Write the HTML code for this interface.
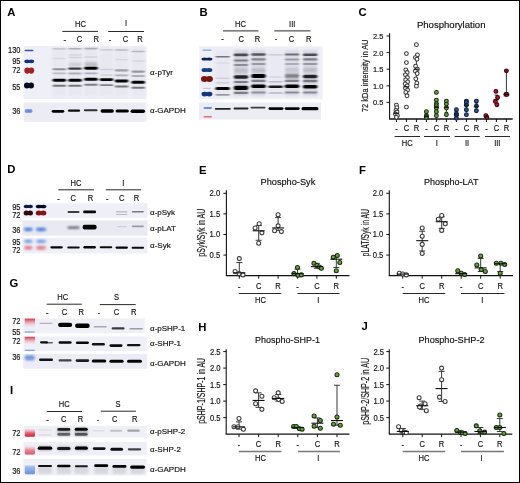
<!DOCTYPE html><html><head><meta charset="utf-8"><style>html,body{margin:0;padding:0;background:#fff}svg{display:block}text{font-family:"Liberation Sans",sans-serif}</style></head><body>
<svg style="will-change:transform" width="520" height="483" viewBox="0 0 520 483">
<defs><filter id="b1" x="-50%" y="-100%" width="200%" height="300%"><feGaussianBlur stdDeviation="0.65 0.5"/></filter><filter id="b1s" x="-50%" y="-100%" width="200%" height="300%"><feGaussianBlur stdDeviation="0.85 0.7"/></filter><filter id="b2" x="-50%" y="-100%" width="200%" height="300%"><feGaussianBlur stdDeviation="1.0 0.9"/></filter><filter id="b3" x="-50%" y="-100%" width="200%" height="300%"><feGaussianBlur stdDeviation="2 1.8"/></filter><linearGradient id="rf" x1="0" y1="0" x2="0" y2="1"><stop offset="0" stop-color="#d8283a" stop-opacity="0.95"/><stop offset="0.35" stop-color="#e05868" stop-opacity="0.6"/><stop offset="1" stop-color="#f0c0cc" stop-opacity="0"/></linearGradient><linearGradient id="ru" x1="0" y1="0" x2="0" y2="1"><stop offset="0" stop-color="#f0b0bc" stop-opacity="0.3"/><stop offset="0.5" stop-color="#e04a5a" stop-opacity="0.85"/><stop offset="1" stop-color="#d42030" stop-opacity="1"/></linearGradient><linearGradient id="bu" x1="0" y1="0" x2="0" y2="1"><stop offset="0" stop-color="#ffffff" stop-opacity="0.9"/><stop offset="0.3" stop-color="#8aaae8" stop-opacity="0.8"/><stop offset="1" stop-color="#5a86d8" stop-opacity="0.9"/></linearGradient><filter id="bg" x="-5%" y="-10%" width="110%" height="120%"><feGaussianBlur stdDeviation="0.5"/></filter></defs>
<rect x="0" y="0" width="520" height="483" fill="#fff"/>
<text x="7.3" y="15.6" font-size="11.3" text-anchor="start" font-weight="bold" fill="#000" >A</text>
<text x="199.5" y="16.0" font-size="11.3" text-anchor="start" font-weight="bold" fill="#000" >B</text>
<text x="358.4" y="15.6" font-size="11.3" text-anchor="start" font-weight="bold" fill="#000" >C</text>
<text x="7.2" y="172.7" font-size="11.3" text-anchor="start" font-weight="bold" fill="#000" >D</text>
<text x="199.1" y="173.6" font-size="11.3" text-anchor="start" font-weight="bold" fill="#000" >E</text>
<text x="359.1" y="173.5" font-size="11.3" text-anchor="start" font-weight="bold" fill="#000" >F</text>
<text x="9.6" y="286.9" font-size="11.3" text-anchor="start" font-weight="bold" fill="#000" >G</text>
<text x="198.3" y="331.2" font-size="11.3" text-anchor="start" font-weight="bold" fill="#000" >H</text>
<text x="9.9" y="393.6" font-size="11.3" text-anchor="start" font-weight="bold" fill="#000" >I</text>
<text x="361.5" y="329.8" font-size="11.3" text-anchor="start" font-weight="bold" fill="#000" >J</text>
<text transform="translate(80.4 26.9) scale(0.89 1)" x="0" y="0" font-size="8.5" text-anchor="middle" font-weight="normal" fill="#111" stroke="#111" stroke-width="0.16" >HC</text>
<text transform="translate(126.1 26.3) scale(0.89 1)" x="0" y="0" font-size="8.5" text-anchor="middle" font-weight="normal" fill="#111" stroke="#111" stroke-width="0.16" >I</text>
<line x1="62.3" y1="31.4" x2="98" y2="31.4" stroke="#111" stroke-width="0.9"/>
<line x1="108.2" y1="31.5" x2="144" y2="31.5" stroke="#111" stroke-width="0.9"/>
<text transform="translate(64.8 42.5) scale(0.88 1)" x="0" y="0" font-size="8.6" text-anchor="middle" font-weight="normal" fill="#111" stroke="#111" stroke-width="0.16" >-</text>
<text transform="translate(79.6 41.7) scale(0.88 1)" x="0" y="0" font-size="8.6" text-anchor="middle" font-weight="normal" fill="#111" stroke="#111" stroke-width="0.16" >C</text>
<text transform="translate(96.2 41.7) scale(0.88 1)" x="0" y="0" font-size="8.6" text-anchor="middle" font-weight="normal" fill="#111" stroke="#111" stroke-width="0.16" >R</text>
<text transform="translate(109.9 42.5) scale(0.88 1)" x="0" y="0" font-size="8.6" text-anchor="middle" font-weight="normal" fill="#111" stroke="#111" stroke-width="0.16" >-</text>
<text transform="translate(125.5 41.7) scale(0.88 1)" x="0" y="0" font-size="8.6" text-anchor="middle" font-weight="normal" fill="#111" stroke="#111" stroke-width="0.16" >C</text>
<text transform="translate(139.9 41.7) scale(0.88 1)" x="0" y="0" font-size="8.6" text-anchor="middle" font-weight="normal" fill="#111" stroke="#111" stroke-width="0.16" >R</text>
<text transform="translate(20.5 53.3) scale(0.9 1)" x="0" y="0" font-size="8.3" text-anchor="end" font-weight="normal" fill="#111" stroke="#111" stroke-width="0.16" >130</text>
<text transform="translate(20.5 64.10000000000001) scale(0.9 1)" x="0" y="0" font-size="8.3" text-anchor="end" font-weight="normal" fill="#111" stroke="#111" stroke-width="0.16" >95</text>
<text transform="translate(20.5 72.7) scale(0.9 1)" x="0" y="0" font-size="8.3" text-anchor="end" font-weight="normal" fill="#111" stroke="#111" stroke-width="0.16" >72</text>
<text transform="translate(20.5 90.10000000000001) scale(0.9 1)" x="0" y="0" font-size="8.3" text-anchor="end" font-weight="normal" fill="#111" stroke="#111" stroke-width="0.16" >55</text>
<text transform="translate(20.5 114.2) scale(0.9 1)" x="0" y="0" font-size="8.3" text-anchor="end" font-weight="normal" fill="#111" stroke="#111" stroke-width="0.16" >36</text>
<text x="150.1" y="75.4" font-size="8" text-anchor="start" font-weight="normal" fill="#111" stroke="#111" stroke-width="0.16" >α-pTyr</text>
<text x="150" y="113.2" font-size="8" text-anchor="start" font-weight="normal" fill="#111" stroke="#111" stroke-width="0.16" >α-GAPDH</text>
<rect x="23.5" y="46" width="123" height="53" fill="#efeff8" filter="url(#bg)"/>
<rect x="23.7" y="102.5" width="122.6" height="19.3" fill="#ececf5" filter="url(#bg)"/>
<rect x="24.5" y="49.70" width="9.0" height="1.6" rx="0.80" fill="#25457e" fill-opacity="0.9" filter="url(#b1)"/>
<ellipse cx="27.16" cy="61.30" rx="2.85" ry="1.90" fill="#143470" fill-opacity="1" filter="url(#b1)"/>
<ellipse cx="31.34" cy="61.30" rx="2.85" ry="1.90" fill="#143470" fill-opacity="1" filter="url(#b1)"/>
<rect x="26.88" y="60.08" width="4.75" height="2.43" fill="#143470" fill-opacity="1" filter="url(#b1)"/>
<ellipse cx="27.16" cy="70.60" rx="2.85" ry="3.10" fill="#a02428" fill-opacity="1" filter="url(#b1)"/>
<ellipse cx="31.34" cy="70.60" rx="2.85" ry="3.10" fill="#a02428" fill-opacity="1" filter="url(#b1)"/>
<rect x="26.88" y="68.62" width="4.75" height="3.97" fill="#a02428" fill-opacity="1" filter="url(#b1)"/>
<ellipse cx="26.89" cy="85.60" rx="2.88" ry="3.00" fill="#050820" fill-opacity="1" filter="url(#b1)"/>
<ellipse cx="31.11" cy="85.60" rx="2.88" ry="3.00" fill="#050820" fill-opacity="1" filter="url(#b1)"/>
<rect x="26.60" y="83.68" width="4.80" height="3.84" fill="#050820" fill-opacity="1" filter="url(#b1)"/>
<ellipse cx="26.96" cy="111.00" rx="2.31" ry="2.10" fill="#6a8ad8" fill-opacity="0.85" filter="url(#b1)"/>
<ellipse cx="30.34" cy="111.00" rx="2.31" ry="2.10" fill="#6a8ad8" fill-opacity="0.85" filter="url(#b1)"/>
<rect x="26.73" y="109.66" width="3.85" height="2.69" fill="#6a8ad8" fill-opacity="0.85" filter="url(#b1)"/>
<rect x="52.5" y="47" width="13.5" height="50" fill="#8a8aa0" fill-opacity="0.07" filter="url(#b2)"/>
<rect x="68.2" y="47" width="13.5" height="50" fill="#8a8aa0" fill-opacity="0.07" filter="url(#b2)"/>
<rect x="84.2" y="47" width="13.5" height="50" fill="#8a8aa0" fill-opacity="0.07" filter="url(#b2)"/>
<rect x="99.8" y="47" width="13.5" height="50" fill="#8a8aa0" fill-opacity="0.07" filter="url(#b2)"/>
<rect x="114.8" y="47" width="13.5" height="50" fill="#8a8aa0" fill-opacity="0.07" filter="url(#b2)"/>
<rect x="131.4" y="47" width="13.5" height="50" fill="#8a8aa0" fill-opacity="0.07" filter="url(#b2)"/>
<rect x="52.55" y="48.25" width="13.50" height="1.30" rx="0.65" fill="#000" fill-opacity="0.2" filter="url(#b1s)"/>
<rect x="52.55" y="57.85" width="13.50" height="1.30" rx="0.65" fill="#000" fill-opacity="0.07" filter="url(#b1s)"/>
<rect x="52.55" y="68.30" width="13.50" height="2.00" rx="1.00" fill="#000" fill-opacity="0.38" filter="url(#b1s)"/>
<rect x="52.55" y="72.40" width="13.50" height="1.80" rx="0.90" fill="#000" fill-opacity="0.2" filter="url(#b1s)"/>
<rect x="52.55" y="78.75" width="13.50" height="2.90" rx="1.45" fill="#000" fill-opacity="1.0" filter="url(#b1s)"/>
<rect x="52.55" y="84.70" width="13.50" height="2.00" rx="1.00" fill="#000" fill-opacity="0.5" filter="url(#b1s)"/>
<rect x="68.25" y="47.90" width="13.50" height="1.60" rx="0.80" fill="#000" fill-opacity="0.25" filter="url(#b1s)"/>
<rect x="68.25" y="54.35" width="13.50" height="1.30" rx="0.65" fill="#000" fill-opacity="0.08" filter="url(#b1s)"/>
<rect x="68.25" y="56.85" width="13.50" height="1.30" rx="0.65" fill="#000" fill-opacity="0.1" filter="url(#b1s)"/>
<rect x="68.25" y="62.50" width="13.50" height="4.00" rx="2.00" fill="#000" fill-opacity="0.12" filter="url(#b2)"/>
<rect x="68.25" y="67.40" width="13.50" height="2.40" rx="1.20" fill="#000" fill-opacity="0.75" filter="url(#b1s)"/>
<rect x="68.25" y="72.40" width="13.50" height="2.00" rx="1.00" fill="#000" fill-opacity="0.25" filter="url(#b1s)"/>
<rect x="68.25" y="78.70" width="13.50" height="3.00" rx="1.50" fill="#000" fill-opacity="1.0" filter="url(#b1s)"/>
<rect x="68.25" y="84.70" width="13.50" height="2.00" rx="1.00" fill="#000" fill-opacity="0.5" filter="url(#b1s)"/>
<rect x="84.25" y="47.80" width="13.50" height="1.60" rx="0.80" fill="#000" fill-opacity="0.25" filter="url(#b1s)"/>
<rect x="84.25" y="56.35" width="13.50" height="1.30" rx="0.65" fill="#000" fill-opacity="0.1" filter="url(#b1s)"/>
<rect x="84.25" y="62.00" width="13.50" height="5.00" rx="2.00" fill="#000" fill-opacity="0.18" filter="url(#b2)"/>
<rect x="84.25" y="66.75" width="13.50" height="2.90" rx="1.45" fill="#000" fill-opacity="1.0" filter="url(#b1s)"/>
<rect x="84.25" y="72.40" width="13.50" height="1.80" rx="0.90" fill="#000" fill-opacity="0.25" filter="url(#b1s)"/>
<rect x="84.25" y="77.80" width="13.50" height="3.00" rx="1.50" fill="#000" fill-opacity="1.0" filter="url(#b1s)"/>
<rect x="84.25" y="83.80" width="13.50" height="2.00" rx="1.00" fill="#000" fill-opacity="0.45" filter="url(#b1s)"/>
<rect x="99.75" y="49.25" width="13.50" height="1.30" rx="0.65" fill="#000" fill-opacity="0.14" filter="url(#b1s)"/>
<rect x="99.75" y="68.75" width="13.50" height="1.50" rx="0.75" fill="#000" fill-opacity="0.12" filter="url(#b1s)"/>
<rect x="99.75" y="74.30" width="13.50" height="1.40" rx="0.70" fill="#000" fill-opacity="0.1" filter="url(#b1s)"/>
<rect x="99.75" y="78.25" width="13.50" height="2.70" rx="1.35" fill="#000" fill-opacity="1.0" filter="url(#b1s)"/>
<rect x="99.75" y="84.30" width="13.50" height="1.80" rx="0.90" fill="#000" fill-opacity="0.45" filter="url(#b1s)"/>
<rect x="114.85" y="49.15" width="13.50" height="1.50" rx="0.75" fill="#000" fill-opacity="0.2" filter="url(#b1s)"/>
<rect x="114.85" y="59.05" width="13.50" height="1.30" rx="0.65" fill="#000" fill-opacity="0.08" filter="url(#b1s)"/>
<rect x="114.85" y="69.30" width="13.50" height="2.20" rx="1.10" fill="#000" fill-opacity="0.32" filter="url(#b1s)"/>
<rect x="114.85" y="74.50" width="13.50" height="1.80" rx="0.90" fill="#000" fill-opacity="0.25" filter="url(#b1s)"/>
<rect x="114.85" y="79.55" width="13.50" height="2.90" rx="1.45" fill="#000" fill-opacity="1.0" filter="url(#b1s)"/>
<rect x="114.85" y="85.50" width="13.50" height="2.00" rx="1.00" fill="#000" fill-opacity="0.5" filter="url(#b1s)"/>
<rect x="131.45" y="50.85" width="13.50" height="1.50" rx="0.75" fill="#000" fill-opacity="0.22" filter="url(#b1s)"/>
<rect x="131.45" y="60.35" width="13.50" height="1.30" rx="0.65" fill="#000" fill-opacity="0.08" filter="url(#b1s)"/>
<rect x="131.45" y="70.50" width="13.50" height="2.20" rx="1.10" fill="#000" fill-opacity="0.35" filter="url(#b1s)"/>
<rect x="131.45" y="75.10" width="13.50" height="1.80" rx="0.90" fill="#000" fill-opacity="0.25" filter="url(#b1s)"/>
<rect x="131.45" y="80.70" width="13.50" height="3.00" rx="1.50" fill="#000" fill-opacity="1.0" filter="url(#b1s)"/>
<rect x="131.45" y="86.80" width="13.50" height="2.00" rx="1.00" fill="#000" fill-opacity="0.5" filter="url(#b1s)"/>
<rect x="51.70" y="109.90" width="12.60" height="2.80" rx="1.40" fill="#000" fill-opacity="1.0" filter="url(#b1)"/>
<rect x="67.90" y="109.40" width="12.20" height="2.40" rx="1.20" fill="#000" fill-opacity="0.95" filter="url(#b1)"/>
<rect x="83.85" y="109.20" width="13.70" height="2.00" rx="1.00" fill="#000" fill-opacity="0.8" filter="url(#b1)"/>
<rect x="100.55" y="109.30" width="13.30" height="3.40" rx="1.70" fill="#000" fill-opacity="1.0" filter="url(#b1)"/>
<rect x="115.55" y="109.40" width="13.30" height="3.20" rx="1.60" fill="#000" fill-opacity="1.0" filter="url(#b1)"/>
<rect x="130.55" y="109.50" width="14.50" height="3.40" rx="1.70" fill="#000" fill-opacity="1.0" filter="url(#b1)"/>
<text transform="translate(240.5 26.5) scale(0.89 1)" x="0" y="0" font-size="8.5" text-anchor="middle" font-weight="normal" fill="#111" stroke="#111" stroke-width="0.16" >HC</text>
<text transform="translate(292.2 26.5) scale(0.89 1)" x="0" y="0" font-size="8.5" text-anchor="middle" font-weight="normal" fill="#111" stroke="#111" stroke-width="0.16" >III</text>
<line x1="223" y1="30.9" x2="258.5" y2="30.9" stroke="#111" stroke-width="0.9"/>
<line x1="274.3" y1="30.9" x2="310.4" y2="30.9" stroke="#111" stroke-width="0.9"/>
<text transform="translate(222.6 42.4) scale(0.88 1)" x="0" y="0" font-size="8.6" text-anchor="middle" font-weight="normal" fill="#111" stroke="#111" stroke-width="0.16" >-</text>
<text transform="translate(241.2 41.6) scale(0.88 1)" x="0" y="0" font-size="8.6" text-anchor="middle" font-weight="normal" fill="#111" stroke="#111" stroke-width="0.16" >C</text>
<text transform="translate(257.6 41.6) scale(0.88 1)" x="0" y="0" font-size="8.6" text-anchor="middle" font-weight="normal" fill="#111" stroke="#111" stroke-width="0.16" >R</text>
<text transform="translate(275.9 42.4) scale(0.88 1)" x="0" y="0" font-size="8.6" text-anchor="middle" font-weight="normal" fill="#111" stroke="#111" stroke-width="0.16" >-</text>
<text transform="translate(291.5 41.6) scale(0.88 1)" x="0" y="0" font-size="8.6" text-anchor="middle" font-weight="normal" fill="#111" stroke="#111" stroke-width="0.16" >C</text>
<text transform="translate(308.8 41.6) scale(0.88 1)" x="0" y="0" font-size="8.6" text-anchor="middle" font-weight="normal" fill="#111" stroke="#111" stroke-width="0.16" >R</text>
<rect x="199.3" y="46.2" width="123.2" height="53" fill="#efeff8" filter="url(#bg)"/>
<rect x="199" y="102.5" width="122" height="17" fill="#ececf5" filter="url(#bg)"/>
<rect x="202.5" y="49.55" width="9.0" height="1.1" rx="0.55" fill="#4a6aa8" fill-opacity="0.6" filter="url(#b1)"/>
<ellipse cx="204.64" cy="59.00" rx="3.15" ry="1.50" fill="#0c2458" fill-opacity="1" filter="url(#b1)"/>
<ellipse cx="209.26" cy="59.00" rx="3.15" ry="1.50" fill="#0c2458" fill-opacity="1" filter="url(#b1)"/>
<rect x="204.32" y="58.04" width="5.25" height="1.92" fill="#0c2458" fill-opacity="1" filter="url(#b1)"/>
<ellipse cx="204.64" cy="70.00" rx="3.15" ry="2.00" fill="#173f88" fill-opacity="1" filter="url(#b1)"/>
<ellipse cx="209.26" cy="70.00" rx="3.15" ry="2.00" fill="#173f88" fill-opacity="1" filter="url(#b1)"/>
<rect x="204.32" y="68.72" width="5.25" height="2.56" fill="#173f88" fill-opacity="1" filter="url(#b1)"/>
<ellipse cx="204.42" cy="78.90" rx="3.45" ry="3.00" fill="#7a1410" fill-opacity="1" filter="url(#b1)"/>
<ellipse cx="209.48" cy="78.90" rx="3.45" ry="3.00" fill="#7a1410" fill-opacity="1" filter="url(#b1)"/>
<rect x="204.07" y="76.98" width="5.75" height="3.84" fill="#7a1410" fill-opacity="1" filter="url(#b1)"/>
<rect x="203" y="87.70" width="8" height="1.4" rx="0.70" fill="#8a93b0" fill-opacity="0.4" filter="url(#b1)"/>
<ellipse cx="204.64" cy="94.10" rx="3.15" ry="2.40" fill="#12357a" fill-opacity="1" filter="url(#b1)"/>
<ellipse cx="209.26" cy="94.10" rx="3.15" ry="2.40" fill="#12357a" fill-opacity="1" filter="url(#b1)"/>
<rect x="204.32" y="92.56" width="5.25" height="3.07" fill="#12357a" fill-opacity="1" filter="url(#b1)"/>
<rect x="203.5" y="106.90" width="8.5" height="2.2" rx="1.10" fill="#4a7ad0" fill-opacity="0.8" filter="url(#b1)"/>
<rect x="203.5" y="116.00" width="8.5" height="1.6" rx="0.80" fill="#e04040" fill-opacity="0.75" filter="url(#b1)"/>
<rect x="215.4" y="50" width="14.5" height="46" fill="#70708a" fill-opacity="0.06" filter="url(#b2)"/>
<rect x="233.8" y="50" width="14.5" height="46" fill="#70708a" fill-opacity="0.2" filter="url(#b2)"/>
<rect x="251.2" y="50" width="14.5" height="46" fill="#70708a" fill-opacity="0.18" filter="url(#b2)"/>
<rect x="268.4" y="50" width="14.5" height="46" fill="#70708a" fill-opacity="0.04" filter="url(#b2)"/>
<rect x="284.8" y="50" width="14.5" height="46" fill="#70708a" fill-opacity="0.15" filter="url(#b2)"/>
<rect x="302.9" y="50" width="14.5" height="46" fill="#70708a" fill-opacity="0.18" filter="url(#b2)"/>
<rect x="215.45" y="55.90" width="14.50" height="1.60" rx="0.80" fill="#000" fill-opacity="0.5" filter="url(#b1s)"/>
<rect x="215.45" y="62.30" width="14.50" height="1.40" rx="0.70" fill="#000" fill-opacity="0.06" filter="url(#b1s)"/>
<rect x="215.45" y="77.60" width="14.50" height="1.40" rx="0.70" fill="#000" fill-opacity="0.1" filter="url(#b1s)"/>
<rect x="215.45" y="82.00" width="14.50" height="1.40" rx="0.70" fill="#000" fill-opacity="0.1" filter="url(#b1s)"/>
<rect x="215.45" y="86.90" width="14.50" height="3.00" rx="1.50" fill="#000" fill-opacity="1.0" filter="url(#b1s)"/>
<rect x="215.45" y="93.90" width="14.50" height="1.80" rx="0.90" fill="#000" fill-opacity="0.35" filter="url(#b1s)"/>
<rect x="233.75" y="53.40" width="14.50" height="2.80" rx="1.40" fill="#000" fill-opacity="0.65" filter="url(#b1s)"/>
<rect x="233.75" y="59.40" width="14.50" height="2.20" rx="1.10" fill="#000" fill-opacity="0.42" filter="url(#b1s)"/>
<rect x="233.75" y="63.90" width="14.50" height="2.20" rx="1.10" fill="#000" fill-opacity="0.35" filter="url(#b1s)"/>
<rect x="233.75" y="68.50" width="14.50" height="4.00" rx="2.00" fill="#000" fill-opacity="0.12" filter="url(#b2)"/>
<rect x="233.75" y="75.30" width="14.50" height="3.40" rx="1.70" fill="#000" fill-opacity="0.85" filter="url(#b1s)"/>
<rect x="233.75" y="80.90" width="14.50" height="2.20" rx="1.10" fill="#000" fill-opacity="0.42" filter="url(#b1s)"/>
<rect x="233.75" y="85.70" width="14.50" height="4.20" rx="2.00" fill="#000" fill-opacity="1.0" filter="url(#b1s)"/>
<rect x="233.75" y="91.80" width="14.50" height="2.20" rx="1.10" fill="#000" fill-opacity="0.42" filter="url(#b1s)"/>
<rect x="251.25" y="53.20" width="14.50" height="2.60" rx="1.30" fill="#000" fill-opacity="0.6" filter="url(#b1s)"/>
<rect x="251.25" y="58.30" width="14.50" height="2.20" rx="1.10" fill="#000" fill-opacity="0.38" filter="url(#b1s)"/>
<rect x="251.25" y="62.90" width="14.50" height="2.20" rx="1.10" fill="#000" fill-opacity="0.3" filter="url(#b1s)"/>
<rect x="251.25" y="68.50" width="14.50" height="4.00" rx="2.00" fill="#000" fill-opacity="0.14" filter="url(#b2)"/>
<rect x="251.25" y="73.90" width="14.50" height="4.20" rx="2.00" fill="#000" fill-opacity="1.0" filter="url(#b1s)"/>
<rect x="251.25" y="79.80" width="14.50" height="2.20" rx="1.10" fill="#000" fill-opacity="0.42" filter="url(#b1s)"/>
<rect x="251.25" y="84.60" width="14.50" height="3.40" rx="1.70" fill="#000" fill-opacity="1.0" filter="url(#b1s)"/>
<rect x="251.25" y="91.50" width="14.50" height="2.00" rx="1.00" fill="#000" fill-opacity="0.35" filter="url(#b1s)"/>
<rect x="268.35" y="54.15" width="14.50" height="1.30" rx="0.65" fill="#000" fill-opacity="0.16" filter="url(#b1s)"/>
<rect x="268.35" y="76.35" width="14.50" height="1.30" rx="0.65" fill="#000" fill-opacity="0.08" filter="url(#b1s)"/>
<rect x="268.35" y="80.90" width="14.50" height="1.60" rx="0.80" fill="#000" fill-opacity="0.2" filter="url(#b1s)"/>
<rect x="268.35" y="85.50" width="14.50" height="2.60" rx="1.30" fill="#000" fill-opacity="0.9" filter="url(#b1s)"/>
<rect x="268.35" y="92.15" width="14.50" height="1.50" rx="0.75" fill="#000" fill-opacity="0.22" filter="url(#b1s)"/>
<rect x="284.75" y="53.40" width="14.50" height="2.20" rx="1.10" fill="#000" fill-opacity="0.5" filter="url(#b1s)"/>
<rect x="284.75" y="58.40" width="14.50" height="2.00" rx="1.00" fill="#000" fill-opacity="0.3" filter="url(#b1s)"/>
<rect x="284.75" y="63.00" width="14.50" height="2.00" rx="1.00" fill="#000" fill-opacity="0.22" filter="url(#b1s)"/>
<rect x="284.75" y="68.00" width="14.50" height="4.00" rx="2.00" fill="#000" fill-opacity="0.1" filter="url(#b2)"/>
<rect x="284.75" y="74.30" width="14.50" height="3.40" rx="1.70" fill="#000" fill-opacity="0.5" filter="url(#b2)"/>
<rect x="284.75" y="79.80" width="14.50" height="2.20" rx="1.10" fill="#000" fill-opacity="0.42" filter="url(#b1s)"/>
<rect x="284.75" y="84.60" width="14.50" height="3.40" rx="1.70" fill="#000" fill-opacity="1.0" filter="url(#b1s)"/>
<rect x="284.75" y="91.50" width="14.50" height="2.00" rx="1.00" fill="#000" fill-opacity="0.38" filter="url(#b1s)"/>
<rect x="302.95" y="53.50" width="14.50" height="2.60" rx="1.30" fill="#000" fill-opacity="0.65" filter="url(#b1s)"/>
<rect x="302.95" y="58.30" width="14.50" height="2.20" rx="1.10" fill="#000" fill-opacity="0.42" filter="url(#b1s)"/>
<rect x="302.95" y="62.90" width="14.50" height="2.20" rx="1.10" fill="#000" fill-opacity="0.3" filter="url(#b1s)"/>
<rect x="302.95" y="68.00" width="14.50" height="4.00" rx="2.00" fill="#000" fill-opacity="0.14" filter="url(#b2)"/>
<rect x="302.95" y="74.70" width="14.50" height="3.60" rx="1.80" fill="#000" fill-opacity="0.85" filter="url(#b1s)"/>
<rect x="302.95" y="79.80" width="14.50" height="2.40" rx="1.20" fill="#000" fill-opacity="0.45" filter="url(#b1s)"/>
<rect x="302.95" y="85.00" width="14.50" height="3.60" rx="1.80" fill="#000" fill-opacity="1.0" filter="url(#b1s)"/>
<rect x="302.95" y="91.50" width="14.50" height="2.00" rx="1.00" fill="#000" fill-opacity="0.38" filter="url(#b1s)"/>
<rect x="214.80" y="107.90" width="16.00" height="1.80" rx="0.90" fill="#000" fill-opacity="0.85" filter="url(#b1)"/>
<rect x="233.50" y="107.50" width="15.00" height="2.00" rx="1.00" fill="#000" fill-opacity="0.85" filter="url(#b1)"/>
<rect x="250.50" y="106.70" width="15.00" height="1.80" rx="0.90" fill="#000" fill-opacity="0.75" filter="url(#b1)"/>
<rect x="268.50" y="107.20" width="15.00" height="2.80" rx="1.40" fill="#000" fill-opacity="0.97" filter="url(#b1)"/>
<rect x="284.70" y="107.20" width="15.00" height="2.80" rx="1.40" fill="#000" fill-opacity="0.97" filter="url(#b1)"/>
<rect x="301.50" y="107.10" width="17.00" height="3.20" rx="1.60" fill="#000" fill-opacity="0.98" filter="url(#b1)"/>
<text x="451.2" y="27.7" font-size="9.6" text-anchor="middle" font-weight="normal" fill="#111" stroke="#111" stroke-width="0.16" textLength="68.6" lengthAdjust="spacingAndGlyphs">Phosphorylation</text>
<line x1="389.6" y1="33.3" x2="389.6" y2="119.0" stroke="#111" stroke-width="1.1"/>
<line x1="386.6" y1="102.4" x2="389.6" y2="102.4" stroke="#111" stroke-width="1"/>
<text transform="translate(383.3 105.30000000000001) scale(0.92 1)" x="0" y="0" font-size="8.1" text-anchor="end" font-weight="normal" fill="#111" stroke="#111" stroke-width="0.16" >0.5</text>
<line x1="386.6" y1="85.8" x2="389.6" y2="85.8" stroke="#111" stroke-width="1"/>
<text transform="translate(383.3 88.7) scale(0.92 1)" x="0" y="0" font-size="8.1" text-anchor="end" font-weight="normal" fill="#111" stroke="#111" stroke-width="0.16" >1.0</text>
<line x1="386.6" y1="69.19999999999999" x2="389.6" y2="69.19999999999999" stroke="#111" stroke-width="1"/>
<text transform="translate(383.3 72.1) scale(0.92 1)" x="0" y="0" font-size="8.1" text-anchor="end" font-weight="normal" fill="#111" stroke="#111" stroke-width="0.16" >1.5</text>
<line x1="386.6" y1="52.599999999999994" x2="389.6" y2="52.599999999999994" stroke="#111" stroke-width="1"/>
<text transform="translate(383.3 55.49999999999999) scale(0.92 1)" x="0" y="0" font-size="8.1" text-anchor="end" font-weight="normal" fill="#111" stroke="#111" stroke-width="0.16" >2.0</text>
<line x1="386.6" y1="36.0" x2="389.6" y2="36.0" stroke="#111" stroke-width="1"/>
<text transform="translate(383.3 38.9) scale(0.92 1)" x="0" y="0" font-size="8.1" text-anchor="end" font-weight="normal" fill="#111" stroke="#111" stroke-width="0.16" >2.5</text>
<line x1="389.1" y1="119.0" x2="512.7" y2="119.0" stroke="#111" stroke-width="1.3"/>
<line x1="396.4" y1="119.0" x2="396.4" y2="122.0" stroke="#111" stroke-width="1"/>
<text transform="translate(396.4 132.20000000000002) scale(0.88 1)" x="0" y="0" font-size="8.6" text-anchor="middle" font-weight="normal" fill="#111" stroke="#111" stroke-width="0.16" >-</text>
<line x1="406.4" y1="119.0" x2="406.4" y2="122.0" stroke="#111" stroke-width="1"/>
<text transform="translate(406.4 131.3) scale(0.88 1)" x="0" y="0" font-size="8.6" text-anchor="middle" font-weight="normal" fill="#111" stroke="#111" stroke-width="0.16" >C</text>
<line x1="416.4" y1="119.0" x2="416.4" y2="122.0" stroke="#111" stroke-width="1"/>
<text transform="translate(416.4 131.3) scale(0.88 1)" x="0" y="0" font-size="8.6" text-anchor="middle" font-weight="normal" fill="#111" stroke="#111" stroke-width="0.16" >R</text>
<line x1="426.4" y1="119.0" x2="426.4" y2="122.0" stroke="#111" stroke-width="1"/>
<text transform="translate(426.4 132.20000000000002) scale(0.88 1)" x="0" y="0" font-size="8.6" text-anchor="middle" font-weight="normal" fill="#111" stroke="#111" stroke-width="0.16" >-</text>
<line x1="436.4" y1="119.0" x2="436.4" y2="122.0" stroke="#111" stroke-width="1"/>
<text transform="translate(436.4 131.3) scale(0.88 1)" x="0" y="0" font-size="8.6" text-anchor="middle" font-weight="normal" fill="#111" stroke="#111" stroke-width="0.16" >C</text>
<line x1="446.4" y1="119.0" x2="446.4" y2="122.0" stroke="#111" stroke-width="1"/>
<text transform="translate(446.4 131.3) scale(0.88 1)" x="0" y="0" font-size="8.6" text-anchor="middle" font-weight="normal" fill="#111" stroke="#111" stroke-width="0.16" >R</text>
<line x1="456.4" y1="119.0" x2="456.4" y2="122.0" stroke="#111" stroke-width="1"/>
<text transform="translate(456.4 132.20000000000002) scale(0.88 1)" x="0" y="0" font-size="8.6" text-anchor="middle" font-weight="normal" fill="#111" stroke="#111" stroke-width="0.16" >-</text>
<line x1="466.4" y1="119.0" x2="466.4" y2="122.0" stroke="#111" stroke-width="1"/>
<text transform="translate(466.4 131.3) scale(0.88 1)" x="0" y="0" font-size="8.6" text-anchor="middle" font-weight="normal" fill="#111" stroke="#111" stroke-width="0.16" >C</text>
<line x1="476.4" y1="119.0" x2="476.4" y2="122.0" stroke="#111" stroke-width="1"/>
<text transform="translate(476.4 131.3) scale(0.88 1)" x="0" y="0" font-size="8.6" text-anchor="middle" font-weight="normal" fill="#111" stroke="#111" stroke-width="0.16" >R</text>
<line x1="486.4" y1="119.0" x2="486.4" y2="122.0" stroke="#111" stroke-width="1"/>
<text transform="translate(486.4 132.20000000000002) scale(0.88 1)" x="0" y="0" font-size="8.6" text-anchor="middle" font-weight="normal" fill="#111" stroke="#111" stroke-width="0.16" >-</text>
<line x1="496.4" y1="119.0" x2="496.4" y2="122.0" stroke="#111" stroke-width="1"/>
<text transform="translate(496.4 131.3) scale(0.88 1)" x="0" y="0" font-size="8.6" text-anchor="middle" font-weight="normal" fill="#111" stroke="#111" stroke-width="0.16" >C</text>
<line x1="506.4" y1="119.0" x2="506.4" y2="122.0" stroke="#111" stroke-width="1"/>
<text transform="translate(506.4 131.3) scale(0.88 1)" x="0" y="0" font-size="8.6" text-anchor="middle" font-weight="normal" fill="#111" stroke="#111" stroke-width="0.16" >R</text>
<line x1="394.6" y1="136.5" x2="420" y2="136.5" stroke="#111" stroke-width="0.9"/>
<text transform="translate(407.3 145.8) scale(0.89 1)" x="0" y="0" font-size="8.5" text-anchor="middle" font-weight="normal" fill="#111" stroke="#111" stroke-width="0.16" >HC</text>
<line x1="424" y1="136.5" x2="450" y2="136.5" stroke="#111" stroke-width="0.9"/>
<text transform="translate(436.8 145.8) scale(0.89 1)" x="0" y="0" font-size="8.5" text-anchor="middle" font-weight="normal" fill="#111" stroke="#111" stroke-width="0.16" >I</text>
<line x1="454.6" y1="136.5" x2="479.8" y2="136.5" stroke="#111" stroke-width="0.9"/>
<text transform="translate(467 145.8) scale(0.89 1)" x="0" y="0" font-size="8.5" text-anchor="middle" font-weight="normal" fill="#111" stroke="#111" stroke-width="0.16" >II</text>
<line x1="485" y1="136.5" x2="510" y2="136.5" stroke="#111" stroke-width="0.9"/>
<text transform="translate(497.3 145.8) scale(0.89 1)" x="0" y="0" font-size="8.5" text-anchor="middle" font-weight="normal" fill="#111" stroke="#111" stroke-width="0.16" >III</text>
<text x="364.2" y="79.2084" font-size="9.8" text-anchor="middle" font-weight="normal" fill="#111" stroke="#111" stroke-width="0.16" transform="rotate(-90 364.2 75.7)" textLength="72.6" lengthAdjust="spacingAndGlyphs">72 kDa intensity in AU</text>
<line x1="396.4" y1="109.03999999999999" x2="396.4" y2="116.676" stroke="#222" stroke-width="0.9"/>
<line x1="394.65" y1="109.03999999999999" x2="398.15" y2="109.03999999999999" stroke="#222" stroke-width="0.9"/>
<line x1="394.65" y1="116.676" x2="398.15" y2="116.676" stroke="#222" stroke-width="0.9"/>
<circle cx="396.40" cy="105.06" r="1.9" fill="#ffffff" stroke="#3a3a3a" stroke-width="1.05"/>
<circle cx="396.90" cy="107.71" r="1.9" fill="#ffffff" stroke="#3a3a3a" stroke-width="1.05"/>
<circle cx="395.90" cy="110.37" r="1.9" fill="#ffffff" stroke="#3a3a3a" stroke-width="1.05"/>
<circle cx="397.00" cy="112.03" r="1.9" fill="#ffffff" stroke="#3a3a3a" stroke-width="1.05"/>
<circle cx="395.40" cy="114.02" r="1.9" fill="#ffffff" stroke="#3a3a3a" stroke-width="1.05"/>
<circle cx="397.40" cy="115.68" r="1.9" fill="#ffffff" stroke="#3a3a3a" stroke-width="1.05"/>
<circle cx="396.40" cy="117.34" r="1.9" fill="#ffffff" stroke="#3a3a3a" stroke-width="1.05"/>
<line x1="393.9" y1="113.356" x2="398.9" y2="113.356" stroke="#111" stroke-width="1.1"/>
<line x1="406.4" y1="74.17999999999999" x2="406.4" y2="92.44" stroke="#222" stroke-width="0.9"/>
<line x1="404.65" y1="74.17999999999999" x2="408.15" y2="74.17999999999999" stroke="#222" stroke-width="0.9"/>
<line x1="404.65" y1="92.44" x2="408.15" y2="92.44" stroke="#222" stroke-width="0.9"/>
<circle cx="406.40" cy="53.60" r="1.9" fill="#ffffff" stroke="#3a3a3a" stroke-width="1.05"/>
<circle cx="406.40" cy="62.56" r="1.9" fill="#ffffff" stroke="#3a3a3a" stroke-width="1.05"/>
<circle cx="405.80" cy="69.86" r="1.9" fill="#ffffff" stroke="#3a3a3a" stroke-width="1.05"/>
<circle cx="407.20" cy="72.52" r="1.9" fill="#ffffff" stroke="#3a3a3a" stroke-width="1.05"/>
<circle cx="405.40" cy="74.84" r="1.9" fill="#ffffff" stroke="#3a3a3a" stroke-width="1.05"/>
<circle cx="407.40" cy="77.50" r="1.9" fill="#ffffff" stroke="#3a3a3a" stroke-width="1.05"/>
<circle cx="405.60" cy="79.82" r="1.9" fill="#ffffff" stroke="#3a3a3a" stroke-width="1.05"/>
<circle cx="407.60" cy="81.82" r="1.9" fill="#ffffff" stroke="#3a3a3a" stroke-width="1.05"/>
<circle cx="405.20" cy="83.81" r="1.9" fill="#ffffff" stroke="#3a3a3a" stroke-width="1.05"/>
<circle cx="407.20" cy="85.80" r="1.9" fill="#ffffff" stroke="#3a3a3a" stroke-width="1.05"/>
<circle cx="405.40" cy="88.12" r="1.9" fill="#ffffff" stroke="#3a3a3a" stroke-width="1.05"/>
<circle cx="407.60" cy="90.12" r="1.9" fill="#ffffff" stroke="#3a3a3a" stroke-width="1.05"/>
<circle cx="405.80" cy="92.44" r="1.9" fill="#ffffff" stroke="#3a3a3a" stroke-width="1.05"/>
<circle cx="407.00" cy="95.76" r="1.9" fill="#ffffff" stroke="#3a3a3a" stroke-width="1.05"/>
<circle cx="406.40" cy="107.05" r="1.9" fill="#ffffff" stroke="#3a3a3a" stroke-width="1.05"/>
<line x1="403.9" y1="86.79599999999999" x2="408.9" y2="86.79599999999999" stroke="#111" stroke-width="1.1"/>
<line x1="416.4" y1="57.57999999999999" x2="416.4" y2="79.16" stroke="#222" stroke-width="0.9"/>
<line x1="414.65" y1="57.57999999999999" x2="418.15" y2="57.57999999999999" stroke="#222" stroke-width="0.9"/>
<line x1="414.65" y1="79.16" x2="418.15" y2="79.16" stroke="#222" stroke-width="0.9"/>
<circle cx="416.40" cy="44.63" r="1.9" fill="#ffffff" stroke="#3a3a3a" stroke-width="1.05"/>
<circle cx="417.40" cy="54.92" r="1.9" fill="#ffffff" stroke="#3a3a3a" stroke-width="1.05"/>
<circle cx="415.40" cy="57.58" r="1.9" fill="#ffffff" stroke="#3a3a3a" stroke-width="1.05"/>
<circle cx="417.00" cy="59.24" r="1.9" fill="#ffffff" stroke="#3a3a3a" stroke-width="1.05"/>
<circle cx="415.60" cy="66.21" r="1.9" fill="#ffffff" stroke="#3a3a3a" stroke-width="1.05"/>
<circle cx="417.40" cy="69.20" r="1.9" fill="#ffffff" stroke="#3a3a3a" stroke-width="1.05"/>
<circle cx="415.40" cy="71.19" r="1.9" fill="#ffffff" stroke="#3a3a3a" stroke-width="1.05"/>
<circle cx="417.20" cy="73.52" r="1.9" fill="#ffffff" stroke="#3a3a3a" stroke-width="1.05"/>
<circle cx="415.80" cy="78.83" r="1.9" fill="#ffffff" stroke="#3a3a3a" stroke-width="1.05"/>
<circle cx="416.80" cy="83.14" r="1.9" fill="#ffffff" stroke="#3a3a3a" stroke-width="1.05"/>
<circle cx="416.40" cy="86.13" r="1.9" fill="#ffffff" stroke="#3a3a3a" stroke-width="1.05"/>
<line x1="413.9" y1="69.19999999999999" x2="418.9" y2="69.19999999999999" stroke="#111" stroke-width="1.1"/>
<line x1="426.4" y1="114.352" x2="426.4" y2="118.004" stroke="#222" stroke-width="0.9"/>
<line x1="424.65" y1="114.352" x2="428.15" y2="114.352" stroke="#222" stroke-width="0.9"/>
<line x1="424.65" y1="118.004" x2="428.15" y2="118.004" stroke="#222" stroke-width="0.9"/>
<circle cx="426.40" cy="111.70" r="1.9" fill="#62a83a" stroke="#1c2812" stroke-width="1.05"/>
<circle cx="426.40" cy="115.68" r="1.9" fill="#62a83a" stroke="#1c2812" stroke-width="1.05"/>
<circle cx="426.40" cy="116.68" r="1.9" fill="#62a83a" stroke="#1c2812" stroke-width="1.05"/>
<circle cx="426.40" cy="117.67" r="1.9" fill="#62a83a" stroke="#1c2812" stroke-width="1.05"/>
<line x1="423.9" y1="116.676" x2="428.9" y2="116.676" stroke="#111" stroke-width="1.1"/>
<line x1="436.4" y1="102.4" x2="436.4" y2="112.36" stroke="#222" stroke-width="0.9"/>
<line x1="434.65" y1="102.4" x2="438.15" y2="102.4" stroke="#222" stroke-width="0.9"/>
<line x1="434.65" y1="112.36" x2="438.15" y2="112.36" stroke="#222" stroke-width="0.9"/>
<circle cx="436.40" cy="92.44" r="1.9" fill="#62a83a" stroke="#1c2812" stroke-width="1.05"/>
<circle cx="436.40" cy="100.08" r="1.9" fill="#62a83a" stroke="#1c2812" stroke-width="1.05"/>
<circle cx="436.40" cy="103.73" r="1.9" fill="#62a83a" stroke="#1c2812" stroke-width="1.05"/>
<circle cx="436.40" cy="105.72" r="1.9" fill="#62a83a" stroke="#1c2812" stroke-width="1.05"/>
<circle cx="436.40" cy="108.04" r="1.9" fill="#62a83a" stroke="#1c2812" stroke-width="1.05"/>
<circle cx="436.40" cy="111.70" r="1.9" fill="#62a83a" stroke="#1c2812" stroke-width="1.05"/>
<circle cx="436.40" cy="115.68" r="1.9" fill="#62a83a" stroke="#1c2812" stroke-width="1.05"/>
<line x1="433.9" y1="107.38" x2="438.9" y2="107.38" stroke="#111" stroke-width="1.1"/>
<line x1="446.4" y1="102.4" x2="446.4" y2="112.36" stroke="#222" stroke-width="0.9"/>
<line x1="444.65" y1="102.4" x2="448.15" y2="102.4" stroke="#222" stroke-width="0.9"/>
<line x1="444.65" y1="112.36" x2="448.15" y2="112.36" stroke="#222" stroke-width="0.9"/>
<circle cx="446.40" cy="101.07" r="1.9" fill="#62a83a" stroke="#1c2812" stroke-width="1.05"/>
<circle cx="446.40" cy="104.06" r="1.9" fill="#62a83a" stroke="#1c2812" stroke-width="1.05"/>
<circle cx="446.40" cy="108.04" r="1.9" fill="#62a83a" stroke="#1c2812" stroke-width="1.05"/>
<circle cx="446.40" cy="114.68" r="1.9" fill="#62a83a" stroke="#1c2812" stroke-width="1.05"/>
<line x1="443.9" y1="107.38" x2="448.9" y2="107.38" stroke="#111" stroke-width="1.1"/>
<line x1="456.4" y1="111.696" x2="456.4" y2="117.34" stroke="#222" stroke-width="0.9"/>
<line x1="454.65" y1="111.696" x2="458.15" y2="111.696" stroke="#222" stroke-width="0.9"/>
<line x1="454.65" y1="117.34" x2="458.15" y2="117.34" stroke="#222" stroke-width="0.9"/>
<circle cx="456.40" cy="109.70" r="1.9" fill="#2a579e" stroke="#121c33" stroke-width="1.05"/>
<circle cx="456.40" cy="113.69" r="1.9" fill="#2a579e" stroke="#121c33" stroke-width="1.05"/>
<circle cx="456.40" cy="115.02" r="1.9" fill="#2a579e" stroke="#121c33" stroke-width="1.05"/>
<circle cx="456.40" cy="118.34" r="1.9" fill="#2a579e" stroke="#121c33" stroke-width="1.05"/>
<line x1="453.9" y1="115.016" x2="458.9" y2="115.016" stroke="#111" stroke-width="1.1"/>
<line x1="466.4" y1="101.73599999999999" x2="466.4" y2="110.7" stroke="#222" stroke-width="0.9"/>
<line x1="464.65" y1="101.73599999999999" x2="468.15" y2="101.73599999999999" stroke="#222" stroke-width="0.9"/>
<line x1="464.65" y1="110.7" x2="468.15" y2="110.7" stroke="#222" stroke-width="0.9"/>
<circle cx="466.40" cy="101.07" r="1.9" fill="#2a579e" stroke="#121c33" stroke-width="1.05"/>
<circle cx="466.40" cy="102.40" r="1.9" fill="#2a579e" stroke="#121c33" stroke-width="1.05"/>
<circle cx="466.40" cy="105.06" r="1.9" fill="#2a579e" stroke="#121c33" stroke-width="1.05"/>
<circle cx="466.40" cy="109.70" r="1.9" fill="#2a579e" stroke="#121c33" stroke-width="1.05"/>
<circle cx="466.40" cy="114.68" r="1.9" fill="#2a579e" stroke="#121c33" stroke-width="1.05"/>
<line x1="463.9" y1="105.056" x2="468.9" y2="105.056" stroke="#111" stroke-width="1.1"/>
<line x1="476.4" y1="103.064" x2="476.4" y2="109.704" stroke="#222" stroke-width="0.9"/>
<line x1="474.65" y1="103.064" x2="478.15" y2="103.064" stroke="#222" stroke-width="0.9"/>
<line x1="474.65" y1="109.704" x2="478.15" y2="109.704" stroke="#222" stroke-width="0.9"/>
<circle cx="476.40" cy="101.07" r="1.9" fill="#2a579e" stroke="#121c33" stroke-width="1.05"/>
<circle cx="476.40" cy="106.05" r="1.9" fill="#2a579e" stroke="#121c33" stroke-width="1.05"/>
<circle cx="476.40" cy="110.70" r="1.9" fill="#2a579e" stroke="#121c33" stroke-width="1.05"/>
<line x1="473.9" y1="106.384" x2="478.9" y2="106.384" stroke="#111" stroke-width="1.1"/>
<circle cx="485.90" cy="115.68" r="1.9" fill="#c8102c" stroke="#36060c" stroke-width="1.05"/>
<circle cx="486.90" cy="117.34" r="1.9" fill="#c8102c" stroke="#36060c" stroke-width="1.05"/>
<line x1="483.9" y1="116.676" x2="488.9" y2="116.676" stroke="#111" stroke-width="1.1"/>
<line x1="496.4" y1="95.096" x2="496.4" y2="104.06" stroke="#222" stroke-width="0.9"/>
<line x1="494.65" y1="95.096" x2="498.15" y2="95.096" stroke="#222" stroke-width="0.9"/>
<line x1="494.65" y1="104.06" x2="498.15" y2="104.06" stroke="#222" stroke-width="0.9"/>
<circle cx="495.90" cy="91.44" r="1.9" fill="#c8102c" stroke="#36060c" stroke-width="1.05"/>
<circle cx="497.60" cy="97.42" r="1.9" fill="#c8102c" stroke="#36060c" stroke-width="1.05"/>
<circle cx="495.40" cy="101.40" r="1.9" fill="#c8102c" stroke="#36060c" stroke-width="1.05"/>
<circle cx="496.90" cy="104.72" r="1.9" fill="#c8102c" stroke="#36060c" stroke-width="1.05"/>
<line x1="493.9" y1="99.744" x2="498.9" y2="99.744" stroke="#111" stroke-width="1.1"/>
<line x1="506.4" y1="70.86" x2="506.4" y2="94.432" stroke="#222" stroke-width="0.9"/>
<line x1="504.65" y1="70.86" x2="508.15" y2="70.86" stroke="#222" stroke-width="0.9"/>
<line x1="504.65" y1="94.432" x2="508.15" y2="94.432" stroke="#222" stroke-width="0.9"/>
<circle cx="505.80" cy="94.43" r="1.9" fill="#c8102c" stroke="#36060c" stroke-width="1.05"/>
<circle cx="507.00" cy="94.43" r="1.9" fill="#c8102c" stroke="#36060c" stroke-width="1.05"/>
<line x1="503.9" y1="94.432" x2="508.9" y2="94.432" stroke="#111" stroke-width="1.1"/>
<circle cx="506.40" cy="70.86" r="1.9" fill="#8a0c1c" stroke="#3a070e" stroke-width="1.05"/>
<text transform="translate(76 185.9) scale(0.89 1)" x="0" y="0" font-size="8.5" text-anchor="middle" font-weight="normal" fill="#111" stroke="#111" stroke-width="0.16" >HC</text>
<text transform="translate(123.3 185.9) scale(0.89 1)" x="0" y="0" font-size="8.5" text-anchor="middle" font-weight="normal" fill="#111" stroke="#111" stroke-width="0.16" >I</text>
<line x1="58.3" y1="189.8" x2="93.9" y2="189.8" stroke="#111" stroke-width="0.9"/>
<line x1="105.8" y1="189.8" x2="141" y2="189.8" stroke="#111" stroke-width="0.9"/>
<text transform="translate(58.6 201.9) scale(0.88 1)" x="0" y="0" font-size="8.6" text-anchor="middle" font-weight="normal" fill="#111" stroke="#111" stroke-width="0.16" >-</text>
<text transform="translate(73.3 201.1) scale(0.88 1)" x="0" y="0" font-size="8.6" text-anchor="middle" font-weight="normal" fill="#111" stroke="#111" stroke-width="0.16" >C</text>
<text transform="translate(90.5 201.1) scale(0.88 1)" x="0" y="0" font-size="8.6" text-anchor="middle" font-weight="normal" fill="#111" stroke="#111" stroke-width="0.16" >R</text>
<text transform="translate(107.2 201.9) scale(0.88 1)" x="0" y="0" font-size="8.6" text-anchor="middle" font-weight="normal" fill="#111" stroke="#111" stroke-width="0.16" >-</text>
<text transform="translate(121.7 201.1) scale(0.88 1)" x="0" y="0" font-size="8.6" text-anchor="middle" font-weight="normal" fill="#111" stroke="#111" stroke-width="0.16" >C</text>
<text transform="translate(136.4 201.1) scale(0.88 1)" x="0" y="0" font-size="8.6" text-anchor="middle" font-weight="normal" fill="#111" stroke="#111" stroke-width="0.16" >R</text>
<text transform="translate(20.5 209.70000000000002) scale(0.9 1)" x="0" y="0" font-size="8.3" text-anchor="end" font-weight="normal" fill="#111" stroke="#111" stroke-width="0.16" >95</text>
<text transform="translate(20.5 217.5) scale(0.9 1)" x="0" y="0" font-size="8.3" text-anchor="end" font-weight="normal" fill="#111" stroke="#111" stroke-width="0.16" >72</text>
<text transform="translate(20.5 232.5) scale(0.9 1)" x="0" y="0" font-size="8.3" text-anchor="end" font-weight="normal" fill="#111" stroke="#111" stroke-width="0.16" >36</text>
<text transform="translate(20.5 245.0) scale(0.9 1)" x="0" y="0" font-size="8.3" text-anchor="end" font-weight="normal" fill="#111" stroke="#111" stroke-width="0.16" >95</text>
<text transform="translate(20.5 252.5) scale(0.9 1)" x="0" y="0" font-size="8.3" text-anchor="end" font-weight="normal" fill="#111" stroke="#111" stroke-width="0.16" >72</text>
<text x="150" y="214.8" font-size="8" text-anchor="start" font-weight="normal" fill="#111" stroke="#111" stroke-width="0.16" >α-pSyk</text>
<text x="150" y="231.4" font-size="8" text-anchor="start" font-weight="normal" fill="#111" stroke="#111" stroke-width="0.16" >α-pLAT</text>
<text x="150" y="248.4" font-size="8" text-anchor="start" font-weight="normal" fill="#111" stroke="#111" stroke-width="0.16" >α-Syk</text>
<rect x="22.7" y="203.2" width="124.8" height="14.8" fill="#efeff8" filter="url(#bg)"/>
<rect x="22.7" y="220.5" width="124.8" height="15.2" fill="#e9e9f3" filter="url(#bg)"/>
<rect x="22.7" y="237.8" width="124.8" height="15.6" fill="#efeff8" filter="url(#bg)"/>
<ellipse cx="26.32" cy="206.50" rx="2.70" ry="1.80" fill="#0c1a40" fill-opacity="1" filter="url(#b1)"/>
<ellipse cx="30.28" cy="206.50" rx="2.70" ry="1.80" fill="#0c1a40" fill-opacity="1" filter="url(#b1)"/>
<rect x="26.05" y="205.35" width="4.50" height="2.30" fill="#0c1a40" fill-opacity="1" filter="url(#b1)"/>
<ellipse cx="38.78" cy="206.50" rx="3.09" ry="1.80" fill="#050a20" fill-opacity="1" filter="url(#b1)"/>
<ellipse cx="43.32" cy="206.50" rx="3.09" ry="1.80" fill="#050a20" fill-opacity="1" filter="url(#b1)"/>
<rect x="38.48" y="205.35" width="5.15" height="2.30" fill="#050a20" fill-opacity="1" filter="url(#b1)"/>
<ellipse cx="26.32" cy="213.00" rx="2.70" ry="2.50" fill="#300808" fill-opacity="1" filter="url(#b1)"/>
<ellipse cx="30.28" cy="213.00" rx="2.70" ry="2.50" fill="#300808" fill-opacity="1" filter="url(#b1)"/>
<rect x="26.05" y="211.40" width="4.50" height="3.20" fill="#300808" fill-opacity="1" filter="url(#b1)"/>
<ellipse cx="38.78" cy="213.00" rx="3.09" ry="2.50" fill="#801818" fill-opacity="1" filter="url(#b1)"/>
<ellipse cx="43.32" cy="213.00" rx="3.09" ry="2.50" fill="#801818" fill-opacity="1" filter="url(#b1)"/>
<rect x="38.48" y="211.40" width="5.15" height="3.20" fill="#801818" fill-opacity="1" filter="url(#b1)"/>
<ellipse cx="26.32" cy="229.40" rx="2.70" ry="1.80" fill="#5a86d8" fill-opacity="0.85" filter="url(#b2)"/>
<ellipse cx="30.28" cy="229.40" rx="2.70" ry="1.80" fill="#5a86d8" fill-opacity="0.85" filter="url(#b2)"/>
<rect x="26.05" y="228.25" width="4.50" height="2.30" fill="#5a86d8" fill-opacity="0.85" filter="url(#b2)"/>
<ellipse cx="26.32" cy="241.30" rx="2.70" ry="1.60" fill="#6a96e0" fill-opacity="0.7" filter="url(#b2)"/>
<ellipse cx="30.28" cy="241.30" rx="2.70" ry="1.60" fill="#6a96e0" fill-opacity="0.7" filter="url(#b2)"/>
<rect x="26.05" y="240.28" width="4.50" height="2.05" fill="#6a96e0" fill-opacity="0.7" filter="url(#b2)"/>
<ellipse cx="26.32" cy="247.80" rx="2.70" ry="2.00" fill="#e06878" fill-opacity="0.6" filter="url(#b2)"/>
<ellipse cx="30.28" cy="247.80" rx="2.70" ry="2.00" fill="#e06878" fill-opacity="0.6" filter="url(#b2)"/>
<rect x="26.05" y="246.52" width="4.50" height="2.56" fill="#e06878" fill-opacity="0.6" filter="url(#b2)"/>
<ellipse cx="38.78" cy="229.40" rx="3.09" ry="1.80" fill="#5a86d8" fill-opacity="0.85" filter="url(#b2)"/>
<ellipse cx="43.32" cy="229.40" rx="3.09" ry="1.80" fill="#5a86d8" fill-opacity="0.85" filter="url(#b2)"/>
<rect x="38.48" y="228.25" width="5.15" height="2.30" fill="#5a86d8" fill-opacity="0.85" filter="url(#b2)"/>
<ellipse cx="38.78" cy="241.30" rx="3.09" ry="1.60" fill="#6a96e0" fill-opacity="0.7" filter="url(#b2)"/>
<ellipse cx="43.32" cy="241.30" rx="3.09" ry="1.60" fill="#6a96e0" fill-opacity="0.7" filter="url(#b2)"/>
<rect x="38.48" y="240.28" width="5.15" height="2.05" fill="#6a96e0" fill-opacity="0.7" filter="url(#b2)"/>
<ellipse cx="38.78" cy="247.80" rx="3.09" ry="2.00" fill="#e06878" fill-opacity="0.6" filter="url(#b2)"/>
<ellipse cx="43.32" cy="247.80" rx="3.09" ry="2.00" fill="#e06878" fill-opacity="0.6" filter="url(#b2)"/>
<rect x="38.48" y="246.52" width="5.15" height="2.56" fill="#e06878" fill-opacity="0.6" filter="url(#b2)"/>
<rect x="67.50" y="211.10" width="12.00" height="2.00" rx="1.00" fill="#000" fill-opacity="0.75" filter="url(#b1)"/>
<rect x="83.10" y="210.60" width="13.00" height="2.60" rx="1.30" fill="#000" fill-opacity="0.97" filter="url(#b1)"/>
<rect x="115.95" y="211.20" width="11.50" height="1.20" rx="0.60" fill="#000" fill-opacity="0.25" filter="url(#b1)"/>
<rect x="115.95" y="213.90" width="11.50" height="1.20" rx="0.60" fill="#000" fill-opacity="0.22" filter="url(#b1)"/>
<rect x="131.80" y="211.00" width="12.00" height="1.60" rx="0.80" fill="#000" fill-opacity="0.5" filter="url(#b1)"/>
<rect x="67.50" y="226.40" width="12.00" height="2.40" rx="1.20" fill="#000" fill-opacity="0.6" filter="url(#b2)"/>
<rect x="82.60" y="224.80" width="14.00" height="4.60" rx="2.00" fill="#000" fill-opacity="0.99" filter="url(#b1)"/>
<rect x="116.70" y="225.90" width="10.00" height="1.40" rx="0.70" fill="#000" fill-opacity="0.12" filter="url(#b1)"/>
<rect x="131.80" y="225.40" width="12.00" height="1.80" rx="0.90" fill="#000" fill-opacity="0.35" filter="url(#b1)"/>
<rect x="50.35" y="246.20" width="12.50" height="2.20" rx="1.10" fill="#000" fill-opacity="1" filter="url(#b1)"/>
<rect x="67.25" y="246.50" width="12.50" height="2.00" rx="1.00" fill="#000" fill-opacity="0.95" filter="url(#b1)"/>
<rect x="83.35" y="246.00" width="12.50" height="2.60" rx="1.30" fill="#000" fill-opacity="1" filter="url(#b1)"/>
<rect x="99.75" y="246.20" width="12.50" height="2.00" rx="1.00" fill="#000" fill-opacity="0.95" filter="url(#b1)"/>
<rect x="115.45" y="246.50" width="12.50" height="2.20" rx="1.10" fill="#000" fill-opacity="1" filter="url(#b1)"/>
<rect x="131.55" y="246.80" width="12.50" height="2.00" rx="1.00" fill="#000" fill-opacity="0.95" filter="url(#b1)"/>
<text x="287.9" y="185" font-size="9.2" text-anchor="middle" font-weight="normal" fill="#111" stroke="#111" stroke-width="0.16" textLength="54.7" lengthAdjust="spacingAndGlyphs">Phospho-Syk</text>
<line x1="226.4" y1="190.2" x2="226.4" y2="275.7" stroke="#111" stroke-width="1.1"/>
<line x1="223.4" y1="255.1" x2="226.4" y2="255.1" stroke="#111" stroke-width="1"/>
<text transform="translate(220.2 258.0) scale(0.92 1)" x="0" y="0" font-size="8.3" text-anchor="end" font-weight="normal" fill="#111" stroke="#111" stroke-width="0.16" >0.5</text>
<line x1="223.4" y1="234.5" x2="226.4" y2="234.5" stroke="#111" stroke-width="1"/>
<text transform="translate(220.2 237.4) scale(0.92 1)" x="0" y="0" font-size="8.3" text-anchor="end" font-weight="normal" fill="#111" stroke="#111" stroke-width="0.16" >1.0</text>
<line x1="223.4" y1="213.89999999999998" x2="226.4" y2="213.89999999999998" stroke="#111" stroke-width="1"/>
<text transform="translate(220.2 216.79999999999998) scale(0.92 1)" x="0" y="0" font-size="8.3" text-anchor="end" font-weight="normal" fill="#111" stroke="#111" stroke-width="0.16" >1.5</text>
<line x1="223.4" y1="193.29999999999998" x2="226.4" y2="193.29999999999998" stroke="#111" stroke-width="1"/>
<text transform="translate(220.2 196.2) scale(0.92 1)" x="0" y="0" font-size="8.3" text-anchor="end" font-weight="normal" fill="#111" stroke="#111" stroke-width="0.16" >2.0</text>
<line x1="225.9" y1="275.7" x2="349.5" y2="275.7" stroke="#111" stroke-width="1.3"/>
<line x1="239.3" y1="275.7" x2="239.3" y2="278.7" stroke="#111" stroke-width="1"/>
<text transform="translate(239.3 289.5) scale(0.88 1)" x="0" y="0" font-size="8.6" text-anchor="middle" font-weight="normal" fill="#111" stroke="#111" stroke-width="0.16" >-</text>
<line x1="258.7" y1="275.7" x2="258.7" y2="278.7" stroke="#111" stroke-width="1"/>
<text transform="translate(258.7 288.6) scale(0.88 1)" x="0" y="0" font-size="8.6" text-anchor="middle" font-weight="normal" fill="#111" stroke="#111" stroke-width="0.16" >C</text>
<line x1="278.1" y1="275.7" x2="278.1" y2="278.7" stroke="#111" stroke-width="1"/>
<text transform="translate(278.1 288.6) scale(0.88 1)" x="0" y="0" font-size="8.6" text-anchor="middle" font-weight="normal" fill="#111" stroke="#111" stroke-width="0.16" >R</text>
<line x1="297.5" y1="275.7" x2="297.5" y2="278.7" stroke="#111" stroke-width="1"/>
<text transform="translate(297.5 289.5) scale(0.88 1)" x="0" y="0" font-size="8.6" text-anchor="middle" font-weight="normal" fill="#111" stroke="#111" stroke-width="0.16" >-</text>
<line x1="316.9" y1="275.7" x2="316.9" y2="278.7" stroke="#111" stroke-width="1"/>
<text transform="translate(316.9 288.6) scale(0.88 1)" x="0" y="0" font-size="8.6" text-anchor="middle" font-weight="normal" fill="#111" stroke="#111" stroke-width="0.16" >C</text>
<line x1="336.3" y1="275.7" x2="336.3" y2="278.7" stroke="#111" stroke-width="1"/>
<text transform="translate(336.3 288.6) scale(0.88 1)" x="0" y="0" font-size="8.6" text-anchor="middle" font-weight="normal" fill="#111" stroke="#111" stroke-width="0.16" >R</text>
<line x1="238.8" y1="293.5" x2="281.3" y2="293.5" stroke="#111" stroke-width="0.9"/>
<text transform="translate(260.5 303.1) scale(0.89 1)" x="0" y="0" font-size="8.5" text-anchor="middle" font-weight="normal" fill="#111" stroke="#111" stroke-width="0.16" >HC</text>
<line x1="297.5" y1="293.5" x2="339.5" y2="293.5" stroke="#111" stroke-width="0.9"/>
<text transform="translate(318.3 303.1) scale(0.89 1)" x="0" y="0" font-size="8.5" text-anchor="middle" font-weight="normal" fill="#111" stroke="#111" stroke-width="0.16" >I</text>
<text x="201.4" y="236.4948" font-size="10.6" text-anchor="middle" font-weight="normal" fill="#111" stroke="#111" stroke-width="0.16" transform="rotate(-90 201.4 232.7)" textLength="48" lengthAdjust="spacingAndGlyphs">pSyk/Syk in AU</text>
<line x1="239.3" y1="262.51599999999996" x2="239.3" y2="275.7" stroke="#222" stroke-width="0.9"/>
<line x1="236.3" y1="262.51599999999996" x2="242.3" y2="262.51599999999996" stroke="#222" stroke-width="0.9"/>
<line x1="236.3" y1="275.7" x2="242.3" y2="275.7" stroke="#222" stroke-width="0.9"/>
<circle cx="239.30" cy="258.60" r="2.0" fill="#ffffff" stroke="#3a3a3a" stroke-width="1.05"/>
<circle cx="235.10" cy="271.58" r="2.0" fill="#ffffff" stroke="#3a3a3a" stroke-width="1.05"/>
<circle cx="239.10" cy="273.64" r="2.0" fill="#ffffff" stroke="#3a3a3a" stroke-width="1.05"/>
<circle cx="243.00" cy="274.88" r="2.0" fill="#ffffff" stroke="#3a3a3a" stroke-width="1.05"/>
<line x1="233.3" y1="272.816" x2="245.3" y2="272.816" stroke="#111" stroke-width="1.1"/>
<line x1="258.7" y1="225.43599999999998" x2="258.7" y2="240.26799999999997" stroke="#222" stroke-width="0.9"/>
<line x1="255.7" y1="225.43599999999998" x2="261.7" y2="225.43599999999998" stroke="#222" stroke-width="0.9"/>
<line x1="255.7" y1="240.26799999999997" x2="261.7" y2="240.26799999999997" stroke="#222" stroke-width="0.9"/>
<circle cx="259.20" cy="223.79" r="2.0" fill="#ffffff" stroke="#3a3a3a" stroke-width="1.05"/>
<circle cx="255.10" cy="227.91" r="2.0" fill="#ffffff" stroke="#3a3a3a" stroke-width="1.05"/>
<circle cx="261.90" cy="232.85" r="2.0" fill="#ffffff" stroke="#3a3a3a" stroke-width="1.05"/>
<circle cx="258.70" cy="243.15" r="2.0" fill="#ffffff" stroke="#3a3a3a" stroke-width="1.05"/>
<line x1="252.7" y1="230.79199999999997" x2="264.7" y2="230.79199999999997" stroke="#111" stroke-width="1.1"/>
<line x1="278.1" y1="217.608" x2="278.1" y2="230.38" stroke="#222" stroke-width="0.9"/>
<line x1="275.1" y1="217.608" x2="281.1" y2="217.608" stroke="#222" stroke-width="0.9"/>
<line x1="275.1" y1="230.38" x2="281.1" y2="230.38" stroke="#222" stroke-width="0.9"/>
<circle cx="278.10" cy="214.72" r="2.0" fill="#ffffff" stroke="#3a3a3a" stroke-width="1.05"/>
<circle cx="278.10" cy="225.85" r="2.0" fill="#ffffff" stroke="#3a3a3a" stroke-width="1.05"/>
<circle cx="274.60" cy="230.79" r="2.0" fill="#ffffff" stroke="#3a3a3a" stroke-width="1.05"/>
<circle cx="281.40" cy="231.62" r="2.0" fill="#ffffff" stroke="#3a3a3a" stroke-width="1.05"/>
<line x1="272.1" y1="227.908" x2="284.1" y2="227.908" stroke="#111" stroke-width="1.1"/>
<line x1="297.5" y1="269.108" x2="297.5" y2="275.7" stroke="#222" stroke-width="0.9"/>
<line x1="294.5" y1="269.108" x2="300.5" y2="269.108" stroke="#222" stroke-width="0.9"/>
<line x1="294.5" y1="275.7" x2="300.5" y2="275.7" stroke="#222" stroke-width="0.9"/>
<circle cx="297.50" cy="267.46" r="2.0" fill="#62a83a" stroke="#1c2812" stroke-width="1.05"/>
<circle cx="294.00" cy="273.64" r="2.0" fill="#62a83a" stroke="#1c2812" stroke-width="1.05"/>
<circle cx="298.00" cy="275.29" r="2.0" fill="#62a83a" stroke="#1c2812" stroke-width="1.05"/>
<circle cx="301.30" cy="274.88" r="2.0" fill="#62a83a" stroke="#1c2812" stroke-width="1.05"/>
<line x1="291.5" y1="273.64" x2="303.5" y2="273.64" stroke="#111" stroke-width="1.1"/>
<line x1="316.9" y1="263.34" x2="316.9" y2="268.284" stroke="#222" stroke-width="0.9"/>
<line x1="313.9" y1="263.34" x2="319.9" y2="263.34" stroke="#222" stroke-width="0.9"/>
<line x1="313.9" y1="268.284" x2="319.9" y2="268.284" stroke="#222" stroke-width="0.9"/>
<circle cx="313.90" cy="263.34" r="2.0" fill="#62a83a" stroke="#1c2812" stroke-width="1.05"/>
<circle cx="316.90" cy="265.40" r="2.0" fill="#62a83a" stroke="#1c2812" stroke-width="1.05"/>
<circle cx="319.40" cy="267.05" r="2.0" fill="#62a83a" stroke="#1c2812" stroke-width="1.05"/>
<circle cx="321.40" cy="268.28" r="2.0" fill="#62a83a" stroke="#1c2812" stroke-width="1.05"/>
<line x1="310.9" y1="266.63599999999997" x2="322.9" y2="266.63599999999997" stroke="#111" stroke-width="1.1"/>
<line x1="336.3" y1="255.92399999999998" x2="336.3" y2="267.46" stroke="#222" stroke-width="0.9"/>
<line x1="333.3" y1="255.92399999999998" x2="339.3" y2="255.92399999999998" stroke="#222" stroke-width="0.9"/>
<line x1="333.3" y1="267.46" x2="339.3" y2="267.46" stroke="#222" stroke-width="0.9"/>
<circle cx="333.30" cy="257.16" r="2.0" fill="#62a83a" stroke="#1c2812" stroke-width="1.05"/>
<circle cx="337.30" cy="255.51" r="2.0" fill="#62a83a" stroke="#1c2812" stroke-width="1.05"/>
<circle cx="339.80" cy="262.52" r="2.0" fill="#62a83a" stroke="#1c2812" stroke-width="1.05"/>
<circle cx="336.30" cy="270.76" r="2.0" fill="#62a83a" stroke="#1c2812" stroke-width="1.05"/>
<line x1="330.3" y1="259.21999999999997" x2="342.3" y2="259.21999999999997" stroke="#111" stroke-width="1.1"/>
<text x="451.2" y="185" font-size="9.0" text-anchor="middle" font-weight="normal" fill="#111" stroke="#111" stroke-width="0.16" textLength="54.5" lengthAdjust="spacingAndGlyphs">Phospho-LAT</text>
<line x1="389.3" y1="190.2" x2="389.3" y2="275.7" stroke="#111" stroke-width="1.1"/>
<line x1="386.3" y1="255.1" x2="389.3" y2="255.1" stroke="#111" stroke-width="1"/>
<text transform="translate(383.3 258.0) scale(0.92 1)" x="0" y="0" font-size="8.3" text-anchor="end" font-weight="normal" fill="#111" stroke="#111" stroke-width="0.16" >0.5</text>
<line x1="386.3" y1="234.5" x2="389.3" y2="234.5" stroke="#111" stroke-width="1"/>
<text transform="translate(383.3 237.4) scale(0.92 1)" x="0" y="0" font-size="8.3" text-anchor="end" font-weight="normal" fill="#111" stroke="#111" stroke-width="0.16" >1.0</text>
<line x1="386.3" y1="213.89999999999998" x2="389.3" y2="213.89999999999998" stroke="#111" stroke-width="1"/>
<text transform="translate(383.3 216.79999999999998) scale(0.92 1)" x="0" y="0" font-size="8.3" text-anchor="end" font-weight="normal" fill="#111" stroke="#111" stroke-width="0.16" >1.5</text>
<line x1="386.3" y1="193.29999999999998" x2="389.3" y2="193.29999999999998" stroke="#111" stroke-width="1"/>
<text transform="translate(383.3 196.2) scale(0.92 1)" x="0" y="0" font-size="8.3" text-anchor="end" font-weight="normal" fill="#111" stroke="#111" stroke-width="0.16" >2.0</text>
<line x1="388.8" y1="275.7" x2="513" y2="275.7" stroke="#111" stroke-width="1.3"/>
<line x1="402.7" y1="275.7" x2="402.7" y2="278.7" stroke="#111" stroke-width="1"/>
<text transform="translate(402.7 289.5) scale(0.88 1)" x="0" y="0" font-size="8.6" text-anchor="middle" font-weight="normal" fill="#111" stroke="#111" stroke-width="0.16" >-</text>
<line x1="422.2" y1="275.7" x2="422.2" y2="278.7" stroke="#111" stroke-width="1"/>
<text transform="translate(422.2 288.6) scale(0.88 1)" x="0" y="0" font-size="8.6" text-anchor="middle" font-weight="normal" fill="#111" stroke="#111" stroke-width="0.16" >C</text>
<line x1="441.7" y1="275.7" x2="441.7" y2="278.7" stroke="#111" stroke-width="1"/>
<text transform="translate(441.7 288.6) scale(0.88 1)" x="0" y="0" font-size="8.6" text-anchor="middle" font-weight="normal" fill="#111" stroke="#111" stroke-width="0.16" >R</text>
<line x1="461.2" y1="275.7" x2="461.2" y2="278.7" stroke="#111" stroke-width="1"/>
<text transform="translate(461.2 289.5) scale(0.88 1)" x="0" y="0" font-size="8.6" text-anchor="middle" font-weight="normal" fill="#111" stroke="#111" stroke-width="0.16" >-</text>
<line x1="480.7" y1="275.7" x2="480.7" y2="278.7" stroke="#111" stroke-width="1"/>
<text transform="translate(480.7 288.6) scale(0.88 1)" x="0" y="0" font-size="8.6" text-anchor="middle" font-weight="normal" fill="#111" stroke="#111" stroke-width="0.16" >C</text>
<line x1="500.2" y1="275.7" x2="500.2" y2="278.7" stroke="#111" stroke-width="1"/>
<text transform="translate(500.2 288.6) scale(0.88 1)" x="0" y="0" font-size="8.6" text-anchor="middle" font-weight="normal" fill="#111" stroke="#111" stroke-width="0.16" >R</text>
<line x1="402.7" y1="293.5" x2="445.2" y2="293.5" stroke="#111" stroke-width="0.9"/>
<text transform="translate(424 303.1) scale(0.89 1)" x="0" y="0" font-size="8.5" text-anchor="middle" font-weight="normal" fill="#111" stroke="#111" stroke-width="0.16" >HC</text>
<line x1="461" y1="293.5" x2="504.4" y2="293.5" stroke="#111" stroke-width="0.9"/>
<text transform="translate(482.4 303.1) scale(0.89 1)" x="0" y="0" font-size="8.5" text-anchor="middle" font-weight="normal" fill="#111" stroke="#111" stroke-width="0.16" >I</text>
<text x="365.0" y="236.4948" font-size="10.6" text-anchor="middle" font-weight="normal" fill="#111" stroke="#111" stroke-width="0.16" transform="rotate(-90 365.0 232.7)" textLength="47.4" lengthAdjust="spacingAndGlyphs">pLAT/Syk in AU</text>
<circle cx="399.30" cy="273.23" r="2.0" fill="#ffffff" stroke="#3a3a3a" stroke-width="1.05"/>
<circle cx="402.70" cy="274.05" r="2.0" fill="#ffffff" stroke="#3a3a3a" stroke-width="1.05"/>
<circle cx="406.30" cy="274.88" r="2.0" fill="#ffffff" stroke="#3a3a3a" stroke-width="1.05"/>
<line x1="396.7" y1="274.05199999999996" x2="408.7" y2="274.05199999999996" stroke="#111" stroke-width="1.1"/>
<line x1="422.2" y1="231.20399999999998" x2="422.2" y2="250.98" stroke="#222" stroke-width="0.9"/>
<line x1="419.2" y1="231.20399999999998" x2="425.2" y2="231.20399999999998" stroke="#222" stroke-width="0.9"/>
<line x1="419.2" y1="250.98" x2="425.2" y2="250.98" stroke="#222" stroke-width="0.9"/>
<circle cx="422.20" cy="227.91" r="2.0" fill="#ffffff" stroke="#3a3a3a" stroke-width="1.05"/>
<circle cx="422.20" cy="236.15" r="2.0" fill="#ffffff" stroke="#3a3a3a" stroke-width="1.05"/>
<circle cx="422.20" cy="244.39" r="2.0" fill="#ffffff" stroke="#3a3a3a" stroke-width="1.05"/>
<circle cx="422.20" cy="253.45" r="2.0" fill="#ffffff" stroke="#3a3a3a" stroke-width="1.05"/>
<line x1="416.2" y1="240.67999999999998" x2="428.2" y2="240.67999999999998" stroke="#111" stroke-width="1.1"/>
<line x1="441.7" y1="216.784" x2="441.7" y2="228.32" stroke="#222" stroke-width="0.9"/>
<line x1="438.7" y1="216.784" x2="444.7" y2="216.784" stroke="#222" stroke-width="0.9"/>
<line x1="438.7" y1="228.32" x2="444.7" y2="228.32" stroke="#222" stroke-width="0.9"/>
<circle cx="441.70" cy="215.55" r="2.0" fill="#ffffff" stroke="#3a3a3a" stroke-width="1.05"/>
<circle cx="438.30" cy="219.26" r="2.0" fill="#ffffff" stroke="#3a3a3a" stroke-width="1.05"/>
<circle cx="445.30" cy="223.79" r="2.0" fill="#ffffff" stroke="#3a3a3a" stroke-width="1.05"/>
<circle cx="441.70" cy="230.38" r="2.0" fill="#ffffff" stroke="#3a3a3a" stroke-width="1.05"/>
<line x1="435.7" y1="221.72799999999998" x2="447.7" y2="221.72799999999998" stroke="#111" stroke-width="1.1"/>
<circle cx="457.80" cy="270.76" r="2.0" fill="#62a83a" stroke="#1c2812" stroke-width="1.05"/>
<circle cx="461.20" cy="273.23" r="2.0" fill="#62a83a" stroke="#1c2812" stroke-width="1.05"/>
<circle cx="464.60" cy="274.46" r="2.0" fill="#62a83a" stroke="#1c2812" stroke-width="1.05"/>
<line x1="455.2" y1="273.64" x2="467.2" y2="273.64" stroke="#111" stroke-width="1.1"/>
<line x1="480.7" y1="258.39599999999996" x2="480.7" y2="271.58" stroke="#222" stroke-width="0.9"/>
<line x1="477.7" y1="258.39599999999996" x2="483.7" y2="258.39599999999996" stroke="#222" stroke-width="0.9"/>
<line x1="477.7" y1="271.58" x2="483.7" y2="271.58" stroke="#222" stroke-width="0.9"/>
<circle cx="480.70" cy="255.92" r="2.0" fill="#62a83a" stroke="#1c2812" stroke-width="1.05"/>
<circle cx="476.80" cy="264.99" r="2.0" fill="#62a83a" stroke="#1c2812" stroke-width="1.05"/>
<circle cx="481.20" cy="269.52" r="2.0" fill="#62a83a" stroke="#1c2812" stroke-width="1.05"/>
<circle cx="485.30" cy="271.58" r="2.0" fill="#62a83a" stroke="#1c2812" stroke-width="1.05"/>
<line x1="474.7" y1="267.872" x2="486.7" y2="267.872" stroke="#111" stroke-width="1.1"/>
<line x1="500.2" y1="263.34" x2="500.2" y2="271.58" stroke="#222" stroke-width="0.9"/>
<line x1="497.2" y1="263.34" x2="503.2" y2="263.34" stroke="#222" stroke-width="0.9"/>
<line x1="497.2" y1="271.58" x2="503.2" y2="271.58" stroke="#222" stroke-width="0.9"/>
<circle cx="496.30" cy="263.34" r="2.0" fill="#62a83a" stroke="#1c2812" stroke-width="1.05"/>
<circle cx="501.00" cy="263.34" r="2.0" fill="#62a83a" stroke="#1c2812" stroke-width="1.05"/>
<circle cx="504.70" cy="264.58" r="2.0" fill="#62a83a" stroke="#1c2812" stroke-width="1.05"/>
<circle cx="500.20" cy="273.23" r="2.0" fill="#62a83a" stroke="#1c2812" stroke-width="1.05"/>
<line x1="494.2" y1="263.752" x2="506.2" y2="263.752" stroke="#111" stroke-width="1.1"/>
<text transform="translate(62.7 300) scale(0.89 1)" x="0" y="0" font-size="8.5" text-anchor="middle" font-weight="normal" fill="#111" stroke="#111" stroke-width="0.16" >HC</text>
<text transform="translate(116.5 300) scale(0.89 1)" x="0" y="0" font-size="8.5" text-anchor="middle" font-weight="normal" fill="#111" stroke="#111" stroke-width="0.16" >S</text>
<line x1="46.6" y1="304.2" x2="81.8" y2="304.2" stroke="#111" stroke-width="0.9"/>
<line x1="99.8" y1="304.6" x2="135.7" y2="304.6" stroke="#111" stroke-width="0.9"/>
<text transform="translate(47.2 315.8) scale(0.88 1)" x="0" y="0" font-size="8.6" text-anchor="middle" font-weight="normal" fill="#111" stroke="#111" stroke-width="0.16" >-</text>
<text transform="translate(64.5 315.0) scale(0.88 1)" x="0" y="0" font-size="8.6" text-anchor="middle" font-weight="normal" fill="#111" stroke="#111" stroke-width="0.16" >C</text>
<text transform="translate(81.2 315.0) scale(0.88 1)" x="0" y="0" font-size="8.6" text-anchor="middle" font-weight="normal" fill="#111" stroke="#111" stroke-width="0.16" >R</text>
<text transform="translate(98.9 315.8) scale(0.88 1)" x="0" y="0" font-size="8.6" text-anchor="middle" font-weight="normal" fill="#111" stroke="#111" stroke-width="0.16" >-</text>
<text transform="translate(116.4 315.0) scale(0.88 1)" x="0" y="0" font-size="8.6" text-anchor="middle" font-weight="normal" fill="#111" stroke="#111" stroke-width="0.16" >C</text>
<text transform="translate(133.8 315.0) scale(0.88 1)" x="0" y="0" font-size="8.6" text-anchor="middle" font-weight="normal" fill="#111" stroke="#111" stroke-width="0.16" >R</text>
<text transform="translate(20.5 324.2) scale(0.9 1)" x="0" y="0" font-size="8.3" text-anchor="end" font-weight="normal" fill="#111" stroke="#111" stroke-width="0.16" >72</text>
<text transform="translate(20.5 335.09999999999997) scale(0.9 1)" x="0" y="0" font-size="8.3" text-anchor="end" font-weight="normal" fill="#111" stroke="#111" stroke-width="0.16" >55</text>
<text transform="translate(20.5 344.0) scale(0.9 1)" x="0" y="0" font-size="8.3" text-anchor="end" font-weight="normal" fill="#111" stroke="#111" stroke-width="0.16" >72</text>
<text transform="translate(20.5 359.9) scale(0.9 1)" x="0" y="0" font-size="8.3" text-anchor="end" font-weight="normal" fill="#111" stroke="#111" stroke-width="0.16" >36</text>
<text x="150" y="331" font-size="8" text-anchor="start" font-weight="normal" fill="#111" stroke="#111" stroke-width="0.16" >α-pSHP-1</text>
<text x="150" y="346.2" font-size="8" text-anchor="start" font-weight="normal" fill="#111" stroke="#111" stroke-width="0.16" >α-SHP-1</text>
<text x="150" y="365.5" font-size="8" text-anchor="start" font-weight="normal" fill="#111" stroke="#111" stroke-width="0.16" >α-GAPDH</text>
<rect x="23.4" y="318.5" width="121.4" height="14.6" fill="#efeff8" filter="url(#bg)"/>
<rect x="23.4" y="336.5" width="123.2" height="14.6" fill="#efeff8" filter="url(#bg)"/>
<rect x="23.4" y="354" width="123.6" height="14.8" fill="#ececf5" filter="url(#bg)"/>
<rect x="24.7" y="318.6" width="10.3" height="9" fill="url(#rf)" filter="url(#bg)"/>
<rect x="24.7" y="331.45" width="10.099999999999998" height="1.1" rx="0.55" fill="#4a7ad0" fill-opacity="0.85" filter="url(#b1)"/>
<rect x="24.7" y="336.8" width="10.3" height="8" fill="url(#rf)" filter="url(#bg)"/>
<rect x="24.7" y="349.65" width="10.099999999999998" height="1.1" rx="0.55" fill="#4a7ad0" fill-opacity="0.85" filter="url(#b1)"/>
<ellipse cx="27.38" cy="357.80" rx="3.09" ry="2.70" fill="#6a92dc" fill-opacity="0.8" filter="url(#b2)"/>
<ellipse cx="31.92" cy="357.80" rx="3.09" ry="2.70" fill="#6a92dc" fill-opacity="0.8" filter="url(#b2)"/>
<rect x="27.07" y="356.07" width="5.15" height="3.46" fill="#6a92dc" fill-opacity="0.8" filter="url(#b2)"/>
<rect x="39.50" y="322.80" width="13.00" height="1.20" rx="0.60" fill="#000" fill-opacity="0.25" filter="url(#b1)"/>
<rect x="58.10" y="322.70" width="14.00" height="4.40" rx="2.00" fill="#000" fill-opacity="1" filter="url(#b1)"/>
<rect x="75.15" y="323.60" width="14.50" height="4.40" rx="2.00" fill="#000" fill-opacity="1" filter="url(#b1)"/>
<rect x="93.80" y="326.10" width="13.00" height="1.40" rx="0.70" fill="#000" fill-opacity="0.3" filter="url(#b1)"/>
<rect x="111.60" y="327.30" width="13.00" height="2.20" rx="1.10" fill="#000" fill-opacity="0.75" filter="url(#b1)"/>
<rect x="129.45" y="328.05" width="13.50" height="1.50" rx="0.75" fill="#000" fill-opacity="0.35" filter="url(#b1)"/>
<rect x="40.00" y="341.20" width="8.00" height="2.20" rx="1.10" fill="#000" fill-opacity="0.95" filter="url(#b1)"/>
<rect x="45.00" y="341.90" width="8.00" height="1.60" rx="0.80" fill="#000" fill-opacity="0.6" filter="url(#b1)"/>
<rect x="58.60" y="341.30" width="13.00" height="2.40" rx="1.20" fill="#000" fill-opacity="0.97" filter="url(#b1)"/>
<rect x="75.90" y="341.60" width="13.00" height="2.40" rx="1.20" fill="#000" fill-opacity="0.97" filter="url(#b1)"/>
<rect x="91.90" y="343.10" width="13.00" height="2.40" rx="1.20" fill="#000" fill-opacity="0.92" filter="url(#b1)"/>
<rect x="109.50" y="344.30" width="13.00" height="2.60" rx="1.30" fill="#000" fill-opacity="0.95" filter="url(#b1)"/>
<rect x="126.95" y="344.10" width="13.50" height="2.20" rx="1.10" fill="#000" fill-opacity="0.92" filter="url(#b1)"/>
<rect x="39.00" y="358.40" width="14.00" height="2.60" rx="1.30" fill="#000" fill-opacity="0.92" filter="url(#b1)"/>
<rect x="58.60" y="359.30" width="13.00" height="2.20" rx="1.10" fill="#000" fill-opacity="0.72" filter="url(#b1)"/>
<rect x="75.65" y="359.30" width="13.50" height="2.60" rx="1.30" fill="#000" fill-opacity="0.88" filter="url(#b1)"/>
<rect x="91.75" y="359.40" width="14.50" height="3.20" rx="1.60" fill="#000" fill-opacity="0.98" filter="url(#b1)"/>
<rect x="109.40" y="359.70" width="14.20" height="3.00" rx="1.50" fill="#000" fill-opacity="0.98" filter="url(#b1)"/>
<rect x="127.00" y="359.70" width="15.00" height="3.00" rx="1.50" fill="#000" fill-opacity="0.98" filter="url(#b1)"/>
<text x="287.5" y="343" font-size="9.1" text-anchor="middle" font-weight="normal" fill="#111" stroke="#111" stroke-width="0.16" textLength="65" lengthAdjust="spacingAndGlyphs">Phospho-SHP-1</text>
<line x1="226.2" y1="349.3" x2="226.2" y2="434.1" stroke="#111" stroke-width="1.1"/>
<line x1="223.2" y1="417.6" x2="226.2" y2="417.6" stroke="#111" stroke-width="1"/>
<text transform="translate(220.6 420.5) scale(0.92 1)" x="0" y="0" font-size="8.3" text-anchor="end" font-weight="normal" fill="#111" stroke="#111" stroke-width="0.16" >0.5</text>
<line x1="223.2" y1="401.1" x2="226.2" y2="401.1" stroke="#111" stroke-width="1"/>
<text transform="translate(220.6 404.0) scale(0.92 1)" x="0" y="0" font-size="8.3" text-anchor="end" font-weight="normal" fill="#111" stroke="#111" stroke-width="0.16" >1.0</text>
<line x1="223.2" y1="384.6" x2="226.2" y2="384.6" stroke="#111" stroke-width="1"/>
<text transform="translate(220.6 387.5) scale(0.92 1)" x="0" y="0" font-size="8.3" text-anchor="end" font-weight="normal" fill="#111" stroke="#111" stroke-width="0.16" >1.5</text>
<line x1="223.2" y1="368.1" x2="226.2" y2="368.1" stroke="#111" stroke-width="1"/>
<text transform="translate(220.6 371.0) scale(0.92 1)" x="0" y="0" font-size="8.3" text-anchor="end" font-weight="normal" fill="#111" stroke="#111" stroke-width="0.16" >2.0</text>
<line x1="223.2" y1="351.6" x2="226.2" y2="351.6" stroke="#111" stroke-width="1"/>
<text transform="translate(220.6 354.5) scale(0.92 1)" x="0" y="0" font-size="8.3" text-anchor="end" font-weight="normal" fill="#111" stroke="#111" stroke-width="0.16" >2.5</text>
<line x1="225.7" y1="434.1" x2="349.4" y2="434.1" stroke="#111" stroke-width="1.3"/>
<line x1="239.0" y1="434.1" x2="239.0" y2="437.1" stroke="#111" stroke-width="1"/>
<text transform="translate(239.0 447.9) scale(0.88 1)" x="0" y="0" font-size="8.6" text-anchor="middle" font-weight="normal" fill="#111" stroke="#111" stroke-width="0.16" >-</text>
<line x1="258.6" y1="434.1" x2="258.6" y2="437.1" stroke="#111" stroke-width="1"/>
<text transform="translate(258.6 447) scale(0.88 1)" x="0" y="0" font-size="8.6" text-anchor="middle" font-weight="normal" fill="#111" stroke="#111" stroke-width="0.16" >C</text>
<line x1="278.2" y1="434.1" x2="278.2" y2="437.1" stroke="#111" stroke-width="1"/>
<text transform="translate(278.2 447) scale(0.88 1)" x="0" y="0" font-size="8.6" text-anchor="middle" font-weight="normal" fill="#111" stroke="#111" stroke-width="0.16" >R</text>
<line x1="297.8" y1="434.1" x2="297.8" y2="437.1" stroke="#111" stroke-width="1"/>
<text transform="translate(297.8 447.9) scale(0.88 1)" x="0" y="0" font-size="8.6" text-anchor="middle" font-weight="normal" fill="#111" stroke="#111" stroke-width="0.16" >-</text>
<line x1="317.4" y1="434.1" x2="317.4" y2="437.1" stroke="#111" stroke-width="1"/>
<text transform="translate(317.4 447) scale(0.88 1)" x="0" y="0" font-size="8.6" text-anchor="middle" font-weight="normal" fill="#111" stroke="#111" stroke-width="0.16" >C</text>
<line x1="337.0" y1="434.1" x2="337.0" y2="437.1" stroke="#111" stroke-width="1"/>
<text transform="translate(337.0 447) scale(0.88 1)" x="0" y="0" font-size="8.6" text-anchor="middle" font-weight="normal" fill="#111" stroke="#111" stroke-width="0.16" >R</text>
<line x1="238.8" y1="451.5" x2="281.4" y2="451.5" stroke="#777" stroke-width="1.3"/>
<text transform="translate(260.4 461.4) scale(0.89 1)" x="0" y="0" font-size="8.5" text-anchor="middle" font-weight="normal" fill="#111" stroke="#111" stroke-width="0.16" >HC</text>
<line x1="298" y1="451.5" x2="339.8" y2="451.5" stroke="#777" stroke-width="1.3"/>
<text transform="translate(318.3 461.4) scale(0.89 1)" x="0" y="0" font-size="8.5" text-anchor="middle" font-weight="normal" fill="#111" stroke="#111" stroke-width="0.16" >I</text>
<text x="201.2" y="394.5948" font-size="10.6" text-anchor="middle" font-weight="normal" fill="#111" stroke="#111" stroke-width="0.16" transform="rotate(-90 201.2 390.8)" textLength="66" lengthAdjust="spacingAndGlyphs">pSHP-1/SHP-1 in AU</text>
<line x1="239.0" y1="421.89000000000004" x2="239.0" y2="429.15000000000003" stroke="#222" stroke-width="0.9"/>
<line x1="236.0" y1="421.89000000000004" x2="242.0" y2="421.89000000000004" stroke="#222" stroke-width="0.9"/>
<line x1="236.0" y1="429.15000000000003" x2="242.0" y2="429.15000000000003" stroke="#222" stroke-width="0.9"/>
<circle cx="239.00" cy="418.59" r="2.0" fill="#ffffff" stroke="#3a3a3a" stroke-width="1.05"/>
<circle cx="234.00" cy="426.84" r="2.0" fill="#ffffff" stroke="#3a3a3a" stroke-width="1.05"/>
<circle cx="238.00" cy="426.84" r="2.0" fill="#ffffff" stroke="#3a3a3a" stroke-width="1.05"/>
<circle cx="243.40" cy="429.15" r="2.0" fill="#ffffff" stroke="#3a3a3a" stroke-width="1.05"/>
<line x1="233.0" y1="426.84000000000003" x2="245.0" y2="426.84000000000003" stroke="#111" stroke-width="1.1"/>
<line x1="258.6" y1="392.85" x2="258.6" y2="407.37" stroke="#222" stroke-width="0.9"/>
<line x1="255.60000000000002" y1="392.85" x2="261.6" y2="392.85" stroke="#222" stroke-width="0.9"/>
<line x1="255.60000000000002" y1="407.37" x2="261.6" y2="407.37" stroke="#222" stroke-width="0.9"/>
<circle cx="255.60" cy="390.87" r="2.0" fill="#ffffff" stroke="#3a3a3a" stroke-width="1.05"/>
<circle cx="261.90" cy="396.15" r="2.0" fill="#ffffff" stroke="#3a3a3a" stroke-width="1.05"/>
<circle cx="255.60" cy="403.74" r="2.0" fill="#ffffff" stroke="#3a3a3a" stroke-width="1.05"/>
<circle cx="261.90" cy="409.35" r="2.0" fill="#ffffff" stroke="#3a3a3a" stroke-width="1.05"/>
<line x1="252.60000000000002" y1="400.44" x2="264.6" y2="400.44" stroke="#111" stroke-width="1.1"/>
<line x1="278.2" y1="394.5" x2="278.2" y2="401.1" stroke="#222" stroke-width="0.9"/>
<line x1="275.2" y1="394.5" x2="281.2" y2="394.5" stroke="#222" stroke-width="0.9"/>
<line x1="275.2" y1="401.1" x2="281.2" y2="401.1" stroke="#222" stroke-width="0.9"/>
<circle cx="278.20" cy="392.85" r="2.0" fill="#ffffff" stroke="#3a3a3a" stroke-width="1.05"/>
<circle cx="274.20" cy="397.80" r="2.0" fill="#ffffff" stroke="#3a3a3a" stroke-width="1.05"/>
<circle cx="278.60" cy="399.45" r="2.0" fill="#ffffff" stroke="#3a3a3a" stroke-width="1.05"/>
<circle cx="282.20" cy="401.43" r="2.0" fill="#ffffff" stroke="#3a3a3a" stroke-width="1.05"/>
<line x1="272.2" y1="398.46000000000004" x2="284.2" y2="398.46000000000004" stroke="#111" stroke-width="1.1"/>
<circle cx="293.60" cy="426.51" r="2.0" fill="#62a83a" stroke="#1c2812" stroke-width="1.05"/>
<circle cx="296.30" cy="426.51" r="2.0" fill="#62a83a" stroke="#1c2812" stroke-width="1.05"/>
<circle cx="299.40" cy="428.82" r="2.0" fill="#62a83a" stroke="#1c2812" stroke-width="1.05"/>
<circle cx="302.10" cy="429.15" r="2.0" fill="#62a83a" stroke="#1c2812" stroke-width="1.05"/>
<line x1="291.8" y1="427.5" x2="303.8" y2="427.5" stroke="#111" stroke-width="1.1"/>
<line x1="317.4" y1="417.93" x2="317.4" y2="427.5" stroke="#222" stroke-width="0.9"/>
<line x1="314.4" y1="417.93" x2="320.4" y2="417.93" stroke="#222" stroke-width="0.9"/>
<line x1="314.4" y1="427.5" x2="320.4" y2="427.5" stroke="#222" stroke-width="0.9"/>
<circle cx="314.10" cy="415.95" r="2.0" fill="#62a83a" stroke="#1c2812" stroke-width="1.05"/>
<circle cx="320.30" cy="420.57" r="2.0" fill="#62a83a" stroke="#1c2812" stroke-width="1.05"/>
<circle cx="314.10" cy="426.18" r="2.0" fill="#62a83a" stroke="#1c2812" stroke-width="1.05"/>
<circle cx="320.30" cy="428.16" r="2.0" fill="#62a83a" stroke="#1c2812" stroke-width="1.05"/>
<line x1="311.4" y1="423.21000000000004" x2="323.4" y2="423.21000000000004" stroke="#111" stroke-width="1.1"/>
<line x1="337.0" y1="385.26000000000005" x2="337.0" y2="425.19" stroke="#222" stroke-width="0.9"/>
<line x1="334.0" y1="385.26000000000005" x2="340.0" y2="385.26000000000005" stroke="#222" stroke-width="0.9"/>
<line x1="334.0" y1="425.19" x2="340.0" y2="425.19" stroke="#222" stroke-width="0.9"/>
<circle cx="337.00" cy="374.70" r="2.0" fill="#62a83a" stroke="#1c2812" stroke-width="1.05"/>
<circle cx="337.00" cy="416.94" r="2.0" fill="#62a83a" stroke="#1c2812" stroke-width="1.05"/>
<circle cx="333.50" cy="424.20" r="2.0" fill="#62a83a" stroke="#1c2812" stroke-width="1.05"/>
<circle cx="340.30" cy="425.19" r="2.0" fill="#62a83a" stroke="#1c2812" stroke-width="1.05"/>
<line x1="331.0" y1="420.57000000000005" x2="343.0" y2="420.57000000000005" stroke="#111" stroke-width="1.1"/>
<text transform="translate(64.2 407) scale(0.89 1)" x="0" y="0" font-size="8.5" text-anchor="middle" font-weight="normal" fill="#111" stroke="#111" stroke-width="0.16" >HC</text>
<text transform="translate(118 407.2) scale(0.89 1)" x="0" y="0" font-size="8.5" text-anchor="middle" font-weight="normal" fill="#111" stroke="#111" stroke-width="0.16" >S</text>
<line x1="46.8" y1="411.5" x2="82" y2="411.5" stroke="#111" stroke-width="0.9"/>
<line x1="100.8" y1="411.2" x2="135.9" y2="411.2" stroke="#111" stroke-width="0.9"/>
<text transform="translate(47.5 422.7) scale(0.88 1)" x="0" y="0" font-size="8.6" text-anchor="middle" font-weight="normal" fill="#111" stroke="#111" stroke-width="0.16" >-</text>
<text transform="translate(63.8 421.9) scale(0.88 1)" x="0" y="0" font-size="8.6" text-anchor="middle" font-weight="normal" fill="#111" stroke="#111" stroke-width="0.16" >C</text>
<text transform="translate(80.5 421.9) scale(0.88 1)" x="0" y="0" font-size="8.6" text-anchor="middle" font-weight="normal" fill="#111" stroke="#111" stroke-width="0.16" >R</text>
<text transform="translate(98.1 422.7) scale(0.88 1)" x="0" y="0" font-size="8.6" text-anchor="middle" font-weight="normal" fill="#111" stroke="#111" stroke-width="0.16" >-</text>
<text transform="translate(114.8 421.9) scale(0.88 1)" x="0" y="0" font-size="8.6" text-anchor="middle" font-weight="normal" fill="#111" stroke="#111" stroke-width="0.16" >C</text>
<text transform="translate(134.8 421.9) scale(0.88 1)" x="0" y="0" font-size="8.6" text-anchor="middle" font-weight="normal" fill="#111" stroke="#111" stroke-width="0.16" >R</text>
<text transform="translate(20.5 436.0) scale(0.9 1)" x="0" y="0" font-size="8.3" text-anchor="end" font-weight="normal" fill="#111" stroke="#111" stroke-width="0.16" >72</text>
<text transform="translate(20.5 454.79999999999995) scale(0.9 1)" x="0" y="0" font-size="8.3" text-anchor="end" font-weight="normal" fill="#111" stroke="#111" stroke-width="0.16" >72</text>
<text transform="translate(20.5 473.5) scale(0.9 1)" x="0" y="0" font-size="8.3" text-anchor="end" font-weight="normal" fill="#111" stroke="#111" stroke-width="0.16" >36</text>
<text x="150" y="434.2" font-size="8" text-anchor="start" font-weight="normal" fill="#111" stroke="#111" stroke-width="0.16" >α-pSHP-2</text>
<text x="150" y="452.4" font-size="8" text-anchor="start" font-weight="normal" fill="#111" stroke="#111" stroke-width="0.16" >α-SHP-2</text>
<text x="150" y="472" font-size="8" text-anchor="start" font-weight="normal" fill="#111" stroke="#111" stroke-width="0.16" >α-GAPDH</text>
<rect x="23.4" y="425.8" width="123.2" height="11.6" fill="#efeff8" filter="url(#bg)"/>
<rect x="23.4" y="442" width="123.2" height="13.4" fill="#efeff8" filter="url(#bg)"/>
<rect x="23.4" y="459" width="123.2" height="16.3" fill="#efeff8" filter="url(#bg)"/>
<rect x="24.8" y="429" width="10.2" height="7.8" rx="1.5" fill="url(#ru)" filter="url(#bg)"/>
<rect x="24.8" y="446" width="10.2" height="8.4" rx="1.5" fill="url(#ru)" fill-opacity="0.75" filter="url(#bg)"/>
<rect x="24.8" y="464" width="10.2" height="10.2" rx="1.5" fill="url(#bu)" filter="url(#bg)"/>
<rect x="38.50" y="429.40" width="13.00" height="1.20" rx="0.60" fill="#000" fill-opacity="0.1" filter="url(#b1)"/>
<rect x="38.50" y="434.20" width="13.00" height="1.20" rx="0.60" fill="#000" fill-opacity="0.1" filter="url(#b1)"/>
<rect x="57.30" y="428.00" width="13.00" height="8.00" rx="2.00" fill="#000" fill-opacity="0.22" filter="url(#b2)"/>
<rect x="57.30" y="428.10" width="13.00" height="2.60" rx="1.30" fill="#000" fill-opacity="0.85" filter="url(#b1)"/>
<rect x="57.30" y="433.10" width="13.00" height="2.60" rx="1.30" fill="#000" fill-opacity="0.5" filter="url(#b1)"/>
<rect x="74.70" y="428.00" width="13.00" height="8.00" rx="2.00" fill="#000" fill-opacity="0.25" filter="url(#b2)"/>
<rect x="74.70" y="427.80" width="13.00" height="3.00" rx="1.50" fill="#000" fill-opacity="0.97" filter="url(#b1)"/>
<rect x="74.70" y="433.10" width="13.00" height="2.60" rx="1.30" fill="#000" fill-opacity="0.55" filter="url(#b1)"/>
<rect x="92.50" y="430.00" width="12.00" height="1.40" rx="0.70" fill="#000" fill-opacity="0.08" filter="url(#b1)"/>
<rect x="110.20" y="429.70" width="12.00" height="2.00" rx="1.00" fill="#000" fill-opacity="0.2" filter="url(#b1)"/>
<rect x="127.25" y="429.60" width="12.50" height="2.20" rx="1.10" fill="#000" fill-opacity="0.32" filter="url(#b1)"/>
<rect x="37.75" y="445.70" width="14.50" height="5.00" rx="2.00" fill="#000" fill-opacity="0.2" filter="url(#b2)"/>
<rect x="57.05" y="445.90" width="13.50" height="5.00" rx="2.00" fill="#000" fill-opacity="0.2" filter="url(#b2)"/>
<rect x="74.90" y="445.70" width="13.00" height="5.00" rx="2.00" fill="#000" fill-opacity="0.2" filter="url(#b2)"/>
<rect x="37.75" y="446.60" width="14.50" height="3.20" rx="1.60" fill="#000" fill-opacity="1" filter="url(#b1)"/>
<rect x="57.05" y="446.90" width="13.50" height="3.00" rx="1.50" fill="#000" fill-opacity="0.85" filter="url(#b1)"/>
<rect x="74.90" y="446.60" width="13.00" height="3.20" rx="1.60" fill="#000" fill-opacity="1" filter="url(#b1)"/>
<rect x="92.80" y="447.20" width="12.80" height="2.80" rx="1.40" fill="#000" fill-opacity="0.92" filter="url(#b1)"/>
<rect x="110.35" y="447.80" width="12.70" height="3.00" rx="1.50" fill="#000" fill-opacity="0.95" filter="url(#b1)"/>
<rect x="127.80" y="448.20" width="13.40" height="2.20" rx="1.10" fill="#000" fill-opacity="0.72" filter="url(#b1)"/>
<rect x="38.00" y="466.00" width="14.00" height="8.00" rx="2.00" fill="#000" fill-opacity="0.1" filter="url(#b2)"/>
<rect x="56.80" y="466.00" width="14.00" height="8.00" rx="2.00" fill="#000" fill-opacity="0.1" filter="url(#b2)"/>
<rect x="74.40" y="466.00" width="14.00" height="8.00" rx="2.00" fill="#000" fill-opacity="0.1" filter="url(#b2)"/>
<rect x="94.20" y="466.00" width="14.00" height="8.00" rx="2.00" fill="#000" fill-opacity="0.1" filter="url(#b2)"/>
<rect x="112.40" y="466.00" width="14.00" height="8.00" rx="2.00" fill="#000" fill-opacity="0.1" filter="url(#b2)"/>
<rect x="130.60" y="466.00" width="14.00" height="8.00" rx="2.00" fill="#000" fill-opacity="0.1" filter="url(#b2)"/>
<rect x="38.00" y="465.00" width="14.00" height="2.00" rx="1.00" fill="#000" fill-opacity="0.92" filter="url(#b1)"/>
<rect x="57.05" y="464.70" width="13.50" height="2.60" rx="1.30" fill="#000" fill-opacity="0.97" filter="url(#b1)"/>
<rect x="74.90" y="465.20" width="13.00" height="2.00" rx="1.00" fill="#000" fill-opacity="0.88" filter="url(#b1)"/>
<rect x="94.20" y="464.30" width="14.00" height="2.80" rx="1.40" fill="#000" fill-opacity="1" filter="url(#b1)"/>
<rect x="112.40" y="465.00" width="14.00" height="2.80" rx="1.40" fill="#000" fill-opacity="1" filter="url(#b1)"/>
<rect x="130.10" y="465.50" width="15.00" height="3.20" rx="1.60" fill="#000" fill-opacity="1" filter="url(#b1)"/>
<text x="451.5" y="343.1" font-size="9.2" text-anchor="middle" font-weight="normal" fill="#111" stroke="#111" stroke-width="0.16" textLength="66.1" lengthAdjust="spacingAndGlyphs">Phospho-SHP-2</text>
<line x1="389.3" y1="349.3" x2="389.3" y2="434.1" stroke="#111" stroke-width="1.1"/>
<line x1="386.3" y1="417.6" x2="389.3" y2="417.6" stroke="#111" stroke-width="1"/>
<text transform="translate(384.0 420.5) scale(0.92 1)" x="0" y="0" font-size="8.3" text-anchor="end" font-weight="normal" fill="#111" stroke="#111" stroke-width="0.16" >0.5</text>
<line x1="386.3" y1="401.1" x2="389.3" y2="401.1" stroke="#111" stroke-width="1"/>
<text transform="translate(384.0 404.0) scale(0.92 1)" x="0" y="0" font-size="8.3" text-anchor="end" font-weight="normal" fill="#111" stroke="#111" stroke-width="0.16" >1.0</text>
<line x1="386.3" y1="384.6" x2="389.3" y2="384.6" stroke="#111" stroke-width="1"/>
<text transform="translate(384.0 387.5) scale(0.92 1)" x="0" y="0" font-size="8.3" text-anchor="end" font-weight="normal" fill="#111" stroke="#111" stroke-width="0.16" >1.5</text>
<line x1="386.3" y1="368.1" x2="389.3" y2="368.1" stroke="#111" stroke-width="1"/>
<text transform="translate(384.0 371.0) scale(0.92 1)" x="0" y="0" font-size="8.3" text-anchor="end" font-weight="normal" fill="#111" stroke="#111" stroke-width="0.16" >2.0</text>
<line x1="386.3" y1="351.6" x2="389.3" y2="351.6" stroke="#111" stroke-width="1"/>
<text transform="translate(384.0 354.5) scale(0.92 1)" x="0" y="0" font-size="8.3" text-anchor="end" font-weight="normal" fill="#111" stroke="#111" stroke-width="0.16" >2.5</text>
<line x1="388.8" y1="434.1" x2="512.3" y2="434.1" stroke="#111" stroke-width="1.3"/>
<line x1="402.8" y1="434.1" x2="402.8" y2="437.1" stroke="#111" stroke-width="1"/>
<text transform="translate(402.8 447.9) scale(0.88 1)" x="0" y="0" font-size="8.6" text-anchor="middle" font-weight="normal" fill="#111" stroke="#111" stroke-width="0.16" >-</text>
<line x1="422.2" y1="434.1" x2="422.2" y2="437.1" stroke="#111" stroke-width="1"/>
<text transform="translate(422.2 447) scale(0.88 1)" x="0" y="0" font-size="8.6" text-anchor="middle" font-weight="normal" fill="#111" stroke="#111" stroke-width="0.16" >C</text>
<line x1="441.6" y1="434.1" x2="441.6" y2="437.1" stroke="#111" stroke-width="1"/>
<text transform="translate(441.6 447) scale(0.88 1)" x="0" y="0" font-size="8.6" text-anchor="middle" font-weight="normal" fill="#111" stroke="#111" stroke-width="0.16" >R</text>
<line x1="461.0" y1="434.1" x2="461.0" y2="437.1" stroke="#111" stroke-width="1"/>
<text transform="translate(461.0 447.9) scale(0.88 1)" x="0" y="0" font-size="8.6" text-anchor="middle" font-weight="normal" fill="#111" stroke="#111" stroke-width="0.16" >-</text>
<line x1="480.4" y1="434.1" x2="480.4" y2="437.1" stroke="#111" stroke-width="1"/>
<text transform="translate(480.4 447) scale(0.88 1)" x="0" y="0" font-size="8.6" text-anchor="middle" font-weight="normal" fill="#111" stroke="#111" stroke-width="0.16" >C</text>
<line x1="499.8" y1="434.1" x2="499.8" y2="437.1" stroke="#111" stroke-width="1"/>
<text transform="translate(499.8 447) scale(0.88 1)" x="0" y="0" font-size="8.6" text-anchor="middle" font-weight="normal" fill="#111" stroke="#111" stroke-width="0.16" >R</text>
<line x1="402.7" y1="451.5" x2="445.2" y2="451.5" stroke="#777" stroke-width="1.3"/>
<text transform="translate(424 461.4) scale(0.89 1)" x="0" y="0" font-size="8.5" text-anchor="middle" font-weight="normal" fill="#111" stroke="#111" stroke-width="0.16" >HC</text>
<line x1="461" y1="451.5" x2="503.9" y2="451.5" stroke="#777" stroke-width="1.3"/>
<text transform="translate(481.6 461.4) scale(0.89 1)" x="0" y="0" font-size="8.5" text-anchor="middle" font-weight="normal" fill="#111" stroke="#111" stroke-width="0.16" >I</text>
<text x="364.8" y="395.0948" font-size="10.6" text-anchor="middle" font-weight="normal" fill="#111" stroke="#111" stroke-width="0.16" transform="rotate(-90 364.8 391.3)" textLength="67" lengthAdjust="spacingAndGlyphs">pSHP-2/SHP-2 in AU</text>
<line x1="402.8" y1="428.49" x2="402.8" y2="434.1" stroke="#222" stroke-width="0.9"/>
<line x1="399.8" y1="428.49" x2="405.8" y2="428.49" stroke="#222" stroke-width="0.9"/>
<line x1="399.8" y1="434.1" x2="405.8" y2="434.1" stroke="#222" stroke-width="0.9"/>
<circle cx="398.60" cy="426.84" r="2.0" fill="#ffffff" stroke="#3a3a3a" stroke-width="1.05"/>
<circle cx="401.30" cy="430.47" r="2.0" fill="#ffffff" stroke="#3a3a3a" stroke-width="1.05"/>
<circle cx="404.20" cy="432.12" r="2.0" fill="#ffffff" stroke="#3a3a3a" stroke-width="1.05"/>
<circle cx="406.30" cy="432.78" r="2.0" fill="#ffffff" stroke="#3a3a3a" stroke-width="1.05"/>
<line x1="396.8" y1="431.46000000000004" x2="408.8" y2="431.46000000000004" stroke="#111" stroke-width="1.1"/>
<line x1="422.2" y1="401.1" x2="422.2" y2="409.35" stroke="#222" stroke-width="0.9"/>
<line x1="419.2" y1="401.1" x2="425.2" y2="401.1" stroke="#222" stroke-width="0.9"/>
<line x1="419.2" y1="409.35" x2="425.2" y2="409.35" stroke="#222" stroke-width="0.9"/>
<circle cx="419.10" cy="397.80" r="2.0" fill="#ffffff" stroke="#3a3a3a" stroke-width="1.05"/>
<circle cx="420.50" cy="406.05" r="2.0" fill="#ffffff" stroke="#3a3a3a" stroke-width="1.05"/>
<circle cx="425.10" cy="403.74" r="2.0" fill="#ffffff" stroke="#3a3a3a" stroke-width="1.05"/>
<circle cx="426.30" cy="410.67" r="2.0" fill="#ffffff" stroke="#3a3a3a" stroke-width="1.05"/>
<circle cx="419.50" cy="407.04" r="2.0" fill="#ffffff" stroke="#3a3a3a" stroke-width="1.05"/>
<line x1="416.2" y1="405.72" x2="428.2" y2="405.72" stroke="#111" stroke-width="1.1"/>
<line x1="441.6" y1="371.40000000000003" x2="441.6" y2="401.43" stroke="#222" stroke-width="0.9"/>
<line x1="438.6" y1="371.40000000000003" x2="444.6" y2="371.40000000000003" stroke="#222" stroke-width="0.9"/>
<line x1="438.6" y1="401.43" x2="444.6" y2="401.43" stroke="#222" stroke-width="0.9"/>
<circle cx="441.60" cy="368.10" r="2.0" fill="#ffffff" stroke="#3a3a3a" stroke-width="1.05"/>
<circle cx="441.60" cy="379.65" r="2.0" fill="#ffffff" stroke="#3a3a3a" stroke-width="1.05"/>
<circle cx="439.50" cy="397.14" r="2.0" fill="#ffffff" stroke="#3a3a3a" stroke-width="1.05"/>
<circle cx="445.10" cy="401.43" r="2.0" fill="#ffffff" stroke="#3a3a3a" stroke-width="1.05"/>
<line x1="435.6" y1="388.56" x2="447.6" y2="388.56" stroke="#111" stroke-width="1.1"/>
<circle cx="456.80" cy="430.47" r="2.0" fill="#62a83a" stroke="#1c2812" stroke-width="1.05"/>
<circle cx="460.40" cy="432.45" r="2.0" fill="#62a83a" stroke="#1c2812" stroke-width="1.05"/>
<circle cx="462.40" cy="432.78" r="2.0" fill="#62a83a" stroke="#1c2812" stroke-width="1.05"/>
<circle cx="465.10" cy="433.44" r="2.0" fill="#62a83a" stroke="#1c2812" stroke-width="1.05"/>
<line x1="455.0" y1="432.12" x2="467.0" y2="432.12" stroke="#111" stroke-width="1.1"/>
<line x1="480.4" y1="427.5" x2="480.4" y2="433.44" stroke="#222" stroke-width="0.9"/>
<line x1="477.4" y1="427.5" x2="483.4" y2="427.5" stroke="#222" stroke-width="0.9"/>
<line x1="477.4" y1="433.44" x2="483.4" y2="433.44" stroke="#222" stroke-width="0.9"/>
<circle cx="476.30" cy="425.85" r="2.0" fill="#62a83a" stroke="#1c2812" stroke-width="1.05"/>
<circle cx="479.80" cy="430.80" r="2.0" fill="#62a83a" stroke="#1c2812" stroke-width="1.05"/>
<circle cx="484.60" cy="432.12" r="2.0" fill="#62a83a" stroke="#1c2812" stroke-width="1.05"/>
<line x1="474.4" y1="431.46000000000004" x2="486.4" y2="431.46000000000004" stroke="#111" stroke-width="1.1"/>
<line x1="499.8" y1="418.59000000000003" x2="499.8" y2="431.46000000000004" stroke="#222" stroke-width="0.9"/>
<line x1="496.8" y1="418.59000000000003" x2="502.8" y2="418.59000000000003" stroke="#222" stroke-width="0.9"/>
<line x1="496.8" y1="431.46000000000004" x2="502.8" y2="431.46000000000004" stroke="#222" stroke-width="0.9"/>
<circle cx="499.80" cy="414.96" r="2.0" fill="#62a83a" stroke="#1c2812" stroke-width="1.05"/>
<circle cx="496.30" cy="427.50" r="2.0" fill="#62a83a" stroke="#1c2812" stroke-width="1.05"/>
<circle cx="499.80" cy="427.50" r="2.0" fill="#62a83a" stroke="#1c2812" stroke-width="1.05"/>
<circle cx="503.90" cy="433.44" r="2.0" fill="#62a83a" stroke="#1c2812" stroke-width="1.05"/>
<line x1="493.8" y1="427.5" x2="505.8" y2="427.5" stroke="#111" stroke-width="1.1"/>
<rect x="0.5" y="0.5" width="519" height="482" fill="none" stroke="#000" stroke-width="1"/>
</svg></body></html>
